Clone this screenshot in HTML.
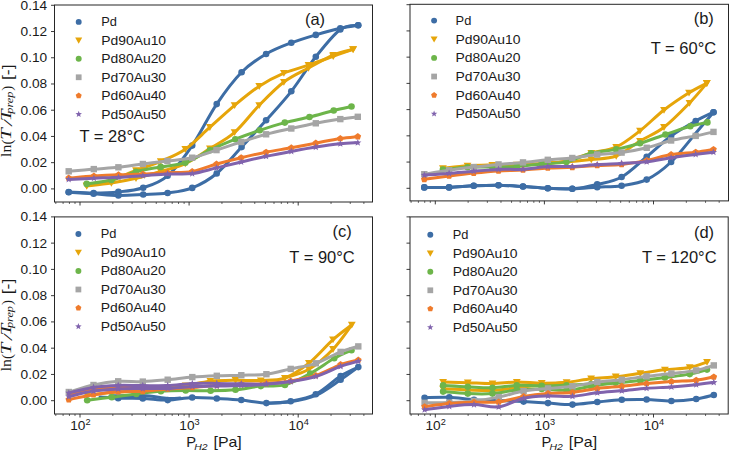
<!DOCTYPE html><html><head><meta charset="utf-8"><style>html,body{margin:0;padding:0;background:#fff;}svg{display:block;}</style></head><body>
<svg width="729" height="450" viewBox="0 0 729 450">
<rect width="729" height="450" fill="#fff"/>
<defs>
<clipPath id="clipa"><rect x="54.50" y="5.00" width="318.00" height="197.00"/></clipPath>
<clipPath id="clipb"><rect x="410.00" y="4.30" width="318.50" height="196.60"/></clipPath>
<clipPath id="clipc"><rect x="54.50" y="216.90" width="318.00" height="197.10"/></clipPath>
<clipPath id="clipd"><rect x="410.00" y="216.90" width="318.20" height="197.10"/></clipPath>
</defs>
<g clip-path="url(#clipa)">
<path d="M68.70,192.00 C72.85,192.17 85.32,193.02 93.60,193.00 C101.88,192.98 110.13,192.78 118.40,191.90 C126.67,191.02 135.00,190.38 143.20,187.70 C151.40,185.02 159.43,182.82 167.60,175.80 C175.77,168.78 184.02,157.55 192.20,145.60 C200.38,133.65 208.47,116.33 216.70,104.10 C224.93,91.87 233.37,80.55 241.60,72.20 C249.83,63.85 257.82,58.90 266.10,54.00 C274.38,49.10 283.02,45.98 291.30,42.80 C299.58,39.62 307.63,37.32 315.80,34.90 C323.97,32.48 333.23,29.90 340.30,28.30 C347.37,26.70 355.22,25.80 358.20,25.30" fill="none" stroke="#3d6da5" stroke-width="3.0" stroke-linecap="round" stroke-linejoin="round"/>
<path d="M68.70,192.20 C72.85,192.47 85.32,193.27 93.60,193.80 C101.88,194.33 110.13,195.28 118.40,195.40 C126.67,195.52 135.00,194.90 143.20,194.50 C151.40,194.10 159.43,194.10 167.60,193.00 C175.77,191.90 184.02,191.15 192.20,187.90 C200.38,184.65 208.47,180.30 216.70,173.50 C224.93,166.70 233.37,155.97 241.60,147.10 C249.83,138.23 257.82,129.60 266.10,120.30 C274.38,111.00 283.02,101.88 291.30,91.30 C299.58,80.72 307.63,67.10 315.80,56.80 C323.97,46.50 333.23,34.75 340.30,29.50 C347.37,24.25 355.22,26.00 358.20,25.30" fill="none" stroke="#3d6da5" stroke-width="3.0" stroke-linecap="round" stroke-linejoin="round"/>
<circle cx="68.70" cy="192.00" r="3.30" fill="#3d6da5"/>
<circle cx="93.60" cy="193.00" r="3.30" fill="#3d6da5"/>
<circle cx="118.40" cy="191.90" r="3.30" fill="#3d6da5"/>
<circle cx="143.20" cy="187.70" r="3.30" fill="#3d6da5"/>
<circle cx="167.60" cy="175.80" r="3.30" fill="#3d6da5"/>
<circle cx="192.20" cy="145.60" r="3.30" fill="#3d6da5"/>
<circle cx="216.70" cy="104.10" r="3.30" fill="#3d6da5"/>
<circle cx="241.60" cy="72.20" r="3.30" fill="#3d6da5"/>
<circle cx="266.10" cy="54.00" r="3.30" fill="#3d6da5"/>
<circle cx="291.30" cy="42.80" r="3.30" fill="#3d6da5"/>
<circle cx="315.80" cy="34.90" r="3.30" fill="#3d6da5"/>
<circle cx="340.30" cy="28.30" r="3.30" fill="#3d6da5"/>
<circle cx="358.20" cy="25.30" r="3.30" fill="#3d6da5"/>
<circle cx="68.70" cy="192.20" r="3.30" fill="#3d6da5"/>
<circle cx="93.60" cy="193.80" r="3.30" fill="#3d6da5"/>
<circle cx="118.40" cy="195.40" r="3.30" fill="#3d6da5"/>
<circle cx="143.20" cy="194.50" r="3.30" fill="#3d6da5"/>
<circle cx="167.60" cy="193.00" r="3.30" fill="#3d6da5"/>
<circle cx="192.20" cy="187.90" r="3.30" fill="#3d6da5"/>
<circle cx="216.70" cy="173.50" r="3.30" fill="#3d6da5"/>
<circle cx="241.60" cy="147.10" r="3.30" fill="#3d6da5"/>
<circle cx="266.10" cy="120.30" r="3.30" fill="#3d6da5"/>
<circle cx="291.30" cy="91.30" r="3.30" fill="#3d6da5"/>
<circle cx="315.80" cy="56.80" r="3.30" fill="#3d6da5"/>
<circle cx="340.30" cy="29.50" r="3.30" fill="#3d6da5"/>
<circle cx="358.20" cy="25.30" r="3.30" fill="#3d6da5"/>
<path d="M86.70,185.90 C90.82,184.92 103.18,182.58 111.40,180.00 C119.62,177.42 127.78,173.52 136.00,170.40 C144.22,167.28 152.48,164.83 160.70,161.30 C168.92,157.77 177.10,154.88 185.30,149.20 C193.50,143.52 201.68,134.52 209.90,127.20 C218.12,119.88 226.38,112.13 234.60,105.30 C242.82,98.47 250.98,91.57 259.20,86.20 C267.42,80.83 275.68,76.60 283.90,73.10 C292.12,69.60 300.28,68.00 308.50,65.20 C316.72,62.40 325.77,58.95 333.20,56.30 C340.63,53.65 349.78,50.47 353.10,49.30" fill="none" stroke="#e6a50a" stroke-width="3.0" stroke-linecap="round" stroke-linejoin="round"/>
<path d="M86.70,185.90 C90.82,185.42 103.18,184.27 111.40,183.00 C119.62,181.73 127.78,180.22 136.00,178.30 C144.22,176.38 152.48,173.95 160.70,171.50 C168.92,169.05 177.10,167.42 185.30,163.60 C193.50,159.78 201.68,153.80 209.90,148.60 C218.12,143.40 226.38,139.62 234.60,132.40 C242.82,125.18 250.98,113.70 259.20,105.30 C267.42,96.90 275.68,88.22 283.90,82.00 C292.12,75.78 300.28,72.48 308.50,68.00 C316.72,63.52 325.77,58.22 333.20,55.10 C340.63,51.98 349.78,50.27 353.10,49.30" fill="none" stroke="#e6a50a" stroke-width="3.0" stroke-linecap="round" stroke-linejoin="round"/>
<path d="M82.80,182.78 L90.60,182.78 L86.70,189.61 Z" fill="#e6a50a"/>
<path d="M107.50,176.88 L115.30,176.88 L111.40,183.71 Z" fill="#e6a50a"/>
<path d="M132.10,167.28 L139.90,167.28 L136.00,174.11 Z" fill="#e6a50a"/>
<path d="M156.80,158.18 L164.60,158.18 L160.70,165.01 Z" fill="#e6a50a"/>
<path d="M181.40,146.08 L189.20,146.08 L185.30,152.91 Z" fill="#e6a50a"/>
<path d="M206.00,124.08 L213.80,124.08 L209.90,130.91 Z" fill="#e6a50a"/>
<path d="M230.70,102.18 L238.50,102.18 L234.60,109.00 Z" fill="#e6a50a"/>
<path d="M255.30,83.08 L263.10,83.08 L259.20,89.91 Z" fill="#e6a50a"/>
<path d="M280.00,69.98 L287.80,69.98 L283.90,76.80 Z" fill="#e6a50a"/>
<path d="M304.60,62.08 L312.40,62.08 L308.50,68.91 Z" fill="#e6a50a"/>
<path d="M329.30,53.18 L337.10,53.18 L333.20,60.00 Z" fill="#e6a50a"/>
<path d="M349.20,46.18 L357.00,46.18 L353.10,53.00 Z" fill="#e6a50a"/>
<path d="M82.80,182.78 L90.60,182.78 L86.70,189.61 Z" fill="#e6a50a"/>
<path d="M107.50,179.88 L115.30,179.88 L111.40,186.71 Z" fill="#e6a50a"/>
<path d="M132.10,175.18 L139.90,175.18 L136.00,182.01 Z" fill="#e6a50a"/>
<path d="M156.80,168.38 L164.60,168.38 L160.70,175.21 Z" fill="#e6a50a"/>
<path d="M181.40,160.48 L189.20,160.48 L185.30,167.31 Z" fill="#e6a50a"/>
<path d="M206.00,145.48 L213.80,145.48 L209.90,152.31 Z" fill="#e6a50a"/>
<path d="M230.70,129.28 L238.50,129.28 L234.60,136.11 Z" fill="#e6a50a"/>
<path d="M255.30,102.18 L263.10,102.18 L259.20,109.00 Z" fill="#e6a50a"/>
<path d="M280.00,78.88 L287.80,78.88 L283.90,85.70 Z" fill="#e6a50a"/>
<path d="M304.60,64.88 L312.40,64.88 L308.50,71.70 Z" fill="#e6a50a"/>
<path d="M329.30,51.98 L337.10,51.98 L333.20,58.80 Z" fill="#e6a50a"/>
<path d="M349.20,46.18 L357.00,46.18 L353.10,53.00 Z" fill="#e6a50a"/>
<path d="M86.70,183.90 C90.82,183.25 103.18,182.03 111.40,180.00 C119.62,177.97 127.78,173.88 136.00,171.70 C144.22,169.52 152.48,168.40 160.70,166.90 C168.92,165.40 177.10,165.48 185.30,162.70 C193.50,159.92 201.57,154.12 209.90,150.20 C218.23,146.28 226.98,142.52 235.30,139.20 C243.62,135.88 251.55,133.07 259.80,130.30 C268.05,127.53 276.52,124.82 284.80,122.60 C293.08,120.38 301.35,119.02 309.50,117.00 C317.65,114.98 326.70,112.25 333.70,110.50 C340.70,108.75 348.53,107.17 351.50,106.50" fill="none" stroke="#6db54a" stroke-width="3.0" stroke-linecap="round" stroke-linejoin="round"/>
<circle cx="86.70" cy="183.90" r="3.30" fill="#6db54a"/>
<circle cx="111.40" cy="180.00" r="3.30" fill="#6db54a"/>
<circle cx="136.00" cy="171.70" r="3.30" fill="#6db54a"/>
<circle cx="160.70" cy="166.90" r="3.30" fill="#6db54a"/>
<circle cx="185.30" cy="162.70" r="3.30" fill="#6db54a"/>
<circle cx="209.90" cy="150.20" r="3.30" fill="#6db54a"/>
<circle cx="235.30" cy="139.20" r="3.30" fill="#6db54a"/>
<circle cx="259.80" cy="130.30" r="3.30" fill="#6db54a"/>
<circle cx="284.80" cy="122.60" r="3.30" fill="#6db54a"/>
<circle cx="309.50" cy="117.00" r="3.30" fill="#6db54a"/>
<circle cx="333.70" cy="110.50" r="3.30" fill="#6db54a"/>
<circle cx="351.50" cy="106.50" r="3.30" fill="#6db54a"/>
<path d="M68.70,171.30 C72.88,170.93 85.52,169.77 93.80,169.10 C102.08,168.43 110.22,168.15 118.40,167.30 C126.58,166.45 134.73,165.05 142.90,164.00 C151.07,162.95 159.18,162.05 167.40,161.00 C175.62,159.95 184.02,159.52 192.20,157.70 C200.38,155.88 208.33,152.72 216.50,150.10 C224.67,147.48 232.93,144.63 241.20,142.00 C249.47,139.37 257.75,136.55 266.10,134.30 C274.45,132.05 283.02,130.33 291.30,128.50 C299.58,126.67 307.63,124.87 315.80,123.30 C323.97,121.73 333.30,120.18 340.30,119.10 C347.30,118.02 354.88,117.18 357.80,116.80" fill="none" stroke="#a5a5a5" stroke-width="3.0" stroke-linecap="round" stroke-linejoin="round"/>
<rect x="65.50" y="168.10" width="6.40" height="6.40" fill="#a5a5a5"/>
<rect x="90.60" y="165.90" width="6.40" height="6.40" fill="#a5a5a5"/>
<rect x="115.20" y="164.10" width="6.40" height="6.40" fill="#a5a5a5"/>
<rect x="139.70" y="160.80" width="6.40" height="6.40" fill="#a5a5a5"/>
<rect x="164.20" y="157.80" width="6.40" height="6.40" fill="#a5a5a5"/>
<rect x="189.00" y="154.50" width="6.40" height="6.40" fill="#a5a5a5"/>
<rect x="213.30" y="146.90" width="6.40" height="6.40" fill="#a5a5a5"/>
<rect x="238.00" y="138.80" width="6.40" height="6.40" fill="#a5a5a5"/>
<rect x="262.90" y="131.10" width="6.40" height="6.40" fill="#a5a5a5"/>
<rect x="288.10" y="125.30" width="6.40" height="6.40" fill="#a5a5a5"/>
<rect x="312.60" y="120.10" width="6.40" height="6.40" fill="#a5a5a5"/>
<rect x="337.10" y="115.90" width="6.40" height="6.40" fill="#a5a5a5"/>
<rect x="354.60" y="113.60" width="6.40" height="6.40" fill="#a5a5a5"/>
<path d="M68.70,178.10 C72.90,177.77 85.60,176.65 93.90,176.10 C102.20,175.55 110.33,175.13 118.50,174.80 C126.67,174.47 134.72,174.43 142.90,174.10 C151.08,173.77 159.38,173.23 167.60,172.80 C175.82,172.37 184.05,172.97 192.20,171.50 C200.35,170.03 208.33,166.30 216.50,164.00 C224.67,161.70 232.93,159.67 241.20,157.70 C249.47,155.73 257.75,153.85 266.10,152.20 C274.45,150.55 283.02,149.32 291.30,147.80 C299.58,146.28 307.63,144.65 315.80,143.10 C323.97,141.55 333.30,139.58 340.30,138.50 C347.30,137.42 354.88,136.92 357.80,136.60" fill="none" stroke="#ef7b2c" stroke-width="3.0" stroke-linecap="round" stroke-linejoin="round"/>
<polygon points="68.70,174.60 72.03,177.02 70.76,180.93 66.64,180.93 65.37,177.02" fill="#ef7b2c"/>
<polygon points="93.90,172.60 97.23,175.02 95.96,178.93 91.84,178.93 90.57,175.02" fill="#ef7b2c"/>
<polygon points="118.50,171.30 121.83,173.72 120.56,177.63 116.44,177.63 115.17,173.72" fill="#ef7b2c"/>
<polygon points="142.90,170.60 146.23,173.02 144.96,176.93 140.84,176.93 139.57,173.02" fill="#ef7b2c"/>
<polygon points="167.60,169.30 170.93,171.72 169.66,175.63 165.54,175.63 164.27,171.72" fill="#ef7b2c"/>
<polygon points="192.20,168.00 195.53,170.42 194.26,174.33 190.14,174.33 188.87,170.42" fill="#ef7b2c"/>
<polygon points="216.50,160.50 219.83,162.92 218.56,166.83 214.44,166.83 213.17,162.92" fill="#ef7b2c"/>
<polygon points="241.20,154.20 244.53,156.62 243.26,160.53 239.14,160.53 237.87,156.62" fill="#ef7b2c"/>
<polygon points="266.10,148.70 269.43,151.12 268.16,155.03 264.04,155.03 262.77,151.12" fill="#ef7b2c"/>
<polygon points="291.30,144.30 294.63,146.72 293.36,150.63 289.24,150.63 287.97,146.72" fill="#ef7b2c"/>
<polygon points="315.80,139.60 319.13,142.02 317.86,145.93 313.74,145.93 312.47,142.02" fill="#ef7b2c"/>
<polygon points="340.30,135.00 343.63,137.42 342.36,141.33 338.24,141.33 336.97,137.42" fill="#ef7b2c"/>
<polygon points="357.80,133.10 361.13,135.52 359.86,139.43 355.74,139.43 354.47,135.52" fill="#ef7b2c"/>
<path d="M68.70,179.40 C72.90,179.20 85.60,178.55 93.90,178.20 C102.20,177.85 110.33,177.72 118.50,177.30 C126.67,176.88 134.72,176.25 142.90,175.70 C151.08,175.15 159.38,174.35 167.60,174.00 C175.82,173.65 184.05,174.62 192.20,173.60 C200.35,172.58 208.33,169.83 216.50,167.90 C224.67,165.97 232.93,163.93 241.20,162.00 C249.47,160.07 257.75,158.07 266.10,156.30 C274.45,154.53 283.02,152.93 291.30,151.40 C299.58,149.87 307.63,148.37 315.80,147.10 C323.97,145.83 333.30,144.53 340.30,143.80 C347.30,143.07 354.88,142.88 357.80,142.70" fill="none" stroke="#8063ad" stroke-width="3.0" stroke-linecap="round" stroke-linejoin="round"/>
<polygon points="68.70,175.60 69.64,178.11 72.31,178.23 70.22,179.89 70.93,182.47 68.70,181.00 66.47,182.47 67.18,179.89 65.09,178.23 67.76,178.11" fill="#8063ad"/>
<polygon points="93.90,174.40 94.84,176.91 97.51,177.03 95.42,178.69 96.13,181.27 93.90,179.80 91.67,181.27 92.38,178.69 90.29,177.03 92.96,176.91" fill="#8063ad"/>
<polygon points="118.50,173.50 119.44,176.01 122.11,176.13 120.02,177.79 120.73,180.37 118.50,178.90 116.27,180.37 116.98,177.79 114.89,176.13 117.56,176.01" fill="#8063ad"/>
<polygon points="142.90,171.90 143.84,174.41 146.51,174.53 144.42,176.19 145.13,178.77 142.90,177.30 140.67,178.77 141.38,176.19 139.29,174.53 141.96,174.41" fill="#8063ad"/>
<polygon points="167.60,170.20 168.54,172.71 171.21,172.83 169.12,174.49 169.83,177.07 167.60,175.60 165.37,177.07 166.08,174.49 163.99,172.83 166.66,172.71" fill="#8063ad"/>
<polygon points="192.20,169.80 193.14,172.31 195.81,172.43 193.72,174.09 194.43,176.67 192.20,175.20 189.97,176.67 190.68,174.09 188.59,172.43 191.26,172.31" fill="#8063ad"/>
<polygon points="216.50,164.10 217.44,166.61 220.11,166.73 218.02,168.39 218.73,170.97 216.50,169.50 214.27,170.97 214.98,168.39 212.89,166.73 215.56,166.61" fill="#8063ad"/>
<polygon points="241.20,158.20 242.14,160.71 244.81,160.83 242.72,162.49 243.43,165.07 241.20,163.60 238.97,165.07 239.68,162.49 237.59,160.83 240.26,160.71" fill="#8063ad"/>
<polygon points="266.10,152.50 267.04,155.01 269.71,155.13 267.62,156.79 268.33,159.37 266.10,157.90 263.87,159.37 264.58,156.79 262.49,155.13 265.16,155.01" fill="#8063ad"/>
<polygon points="291.30,147.60 292.24,150.11 294.91,150.23 292.82,151.89 293.53,154.47 291.30,153.00 289.07,154.47 289.78,151.89 287.69,150.23 290.36,150.11" fill="#8063ad"/>
<polygon points="315.80,143.30 316.74,145.81 319.41,145.93 317.32,147.59 318.03,150.17 315.80,148.70 313.57,150.17 314.28,147.59 312.19,145.93 314.86,145.81" fill="#8063ad"/>
<polygon points="340.30,140.00 341.24,142.51 343.91,142.63 341.82,144.29 342.53,146.87 340.30,145.40 338.07,146.87 338.78,144.29 336.69,142.63 339.36,142.51" fill="#8063ad"/>
<polygon points="357.80,138.90 358.74,141.41 361.41,141.53 359.32,143.19 360.03,145.77 357.80,144.30 355.57,145.77 356.28,143.19 354.19,141.53 356.86,141.41" fill="#8063ad"/>
</g>
<rect x="54.50" y="5.00" width="318.00" height="197.00" fill="none" stroke="#262626" stroke-width="1"/>
<line x1="51.00" y1="188.90" x2="54.50" y2="188.90" stroke="#262626" stroke-width="0.9"/>
<text x="47.2" y="193.40" text-anchor="end" style="font-family:'Liberation Sans',sans-serif;font-size:12.5px" fill="#1a1a1a" textLength="26.6" lengthAdjust="spacingAndGlyphs">0.00</text>
<line x1="51.00" y1="162.67" x2="54.50" y2="162.67" stroke="#262626" stroke-width="0.9"/>
<text x="47.2" y="167.17" text-anchor="end" style="font-family:'Liberation Sans',sans-serif;font-size:12.5px" fill="#1a1a1a" textLength="26.6" lengthAdjust="spacingAndGlyphs">0.02</text>
<line x1="51.00" y1="136.44" x2="54.50" y2="136.44" stroke="#262626" stroke-width="0.9"/>
<text x="47.2" y="140.94" text-anchor="end" style="font-family:'Liberation Sans',sans-serif;font-size:12.5px" fill="#1a1a1a" textLength="26.6" lengthAdjust="spacingAndGlyphs">0.04</text>
<line x1="51.00" y1="110.21" x2="54.50" y2="110.21" stroke="#262626" stroke-width="0.9"/>
<text x="47.2" y="114.71" text-anchor="end" style="font-family:'Liberation Sans',sans-serif;font-size:12.5px" fill="#1a1a1a" textLength="26.6" lengthAdjust="spacingAndGlyphs">0.06</text>
<line x1="51.00" y1="83.98" x2="54.50" y2="83.98" stroke="#262626" stroke-width="0.9"/>
<text x="47.2" y="88.48" text-anchor="end" style="font-family:'Liberation Sans',sans-serif;font-size:12.5px" fill="#1a1a1a" textLength="26.6" lengthAdjust="spacingAndGlyphs">0.08</text>
<line x1="51.00" y1="57.75" x2="54.50" y2="57.75" stroke="#262626" stroke-width="0.9"/>
<text x="47.2" y="62.25" text-anchor="end" style="font-family:'Liberation Sans',sans-serif;font-size:12.5px" fill="#1a1a1a" textLength="26.6" lengthAdjust="spacingAndGlyphs">0.10</text>
<line x1="51.00" y1="31.52" x2="54.50" y2="31.52" stroke="#262626" stroke-width="0.9"/>
<text x="47.2" y="36.02" text-anchor="end" style="font-family:'Liberation Sans',sans-serif;font-size:12.5px" fill="#1a1a1a" textLength="26.6" lengthAdjust="spacingAndGlyphs">0.12</text>
<line x1="51.00" y1="5.29" x2="54.50" y2="5.29" stroke="#262626" stroke-width="0.9"/>
<text x="47.2" y="9.79" text-anchor="end" style="font-family:'Liberation Sans',sans-serif;font-size:12.5px" fill="#1a1a1a" textLength="26.6" lengthAdjust="spacingAndGlyphs">0.14</text>
<line x1="55.80" y1="202.00" x2="55.80" y2="204.00" stroke="#262626" stroke-width="0.7"/>
<line x1="63.10" y1="202.00" x2="63.10" y2="204.00" stroke="#262626" stroke-width="0.7"/>
<line x1="69.43" y1="202.00" x2="69.43" y2="204.00" stroke="#262626" stroke-width="0.7"/>
<line x1="75.01" y1="202.00" x2="75.01" y2="204.00" stroke="#262626" stroke-width="0.7"/>
<line x1="80.00" y1="202.00" x2="80.00" y2="205.50" stroke="#262626" stroke-width="0.9"/>
<line x1="112.84" y1="202.00" x2="112.84" y2="204.00" stroke="#262626" stroke-width="0.7"/>
<line x1="132.05" y1="202.00" x2="132.05" y2="204.00" stroke="#262626" stroke-width="0.7"/>
<line x1="145.68" y1="202.00" x2="145.68" y2="204.00" stroke="#262626" stroke-width="0.7"/>
<line x1="156.26" y1="202.00" x2="156.26" y2="204.00" stroke="#262626" stroke-width="0.7"/>
<line x1="164.90" y1="202.00" x2="164.90" y2="204.00" stroke="#262626" stroke-width="0.7"/>
<line x1="172.20" y1="202.00" x2="172.20" y2="204.00" stroke="#262626" stroke-width="0.7"/>
<line x1="178.53" y1="202.00" x2="178.53" y2="204.00" stroke="#262626" stroke-width="0.7"/>
<line x1="184.11" y1="202.00" x2="184.11" y2="204.00" stroke="#262626" stroke-width="0.7"/>
<line x1="189.10" y1="202.00" x2="189.10" y2="205.50" stroke="#262626" stroke-width="0.9"/>
<line x1="221.94" y1="202.00" x2="221.94" y2="204.00" stroke="#262626" stroke-width="0.7"/>
<line x1="241.15" y1="202.00" x2="241.15" y2="204.00" stroke="#262626" stroke-width="0.7"/>
<line x1="254.78" y1="202.00" x2="254.78" y2="204.00" stroke="#262626" stroke-width="0.7"/>
<line x1="265.36" y1="202.00" x2="265.36" y2="204.00" stroke="#262626" stroke-width="0.7"/>
<line x1="274.00" y1="202.00" x2="274.00" y2="204.00" stroke="#262626" stroke-width="0.7"/>
<line x1="281.30" y1="202.00" x2="281.30" y2="204.00" stroke="#262626" stroke-width="0.7"/>
<line x1="287.63" y1="202.00" x2="287.63" y2="204.00" stroke="#262626" stroke-width="0.7"/>
<line x1="293.21" y1="202.00" x2="293.21" y2="204.00" stroke="#262626" stroke-width="0.7"/>
<line x1="298.20" y1="202.00" x2="298.20" y2="205.50" stroke="#262626" stroke-width="0.9"/>
<line x1="331.04" y1="202.00" x2="331.04" y2="204.00" stroke="#262626" stroke-width="0.7"/>
<line x1="350.25" y1="202.00" x2="350.25" y2="204.00" stroke="#262626" stroke-width="0.7"/>
<line x1="363.88" y1="202.00" x2="363.88" y2="204.00" stroke="#262626" stroke-width="0.7"/>
<g clip-path="url(#clipb)">
<path d="M424.30,187.40 C428.43,187.40 440.87,187.67 449.10,187.40 C457.33,187.13 465.47,186.17 473.70,185.80 C481.93,185.43 490.28,185.08 498.50,185.20 C506.72,185.32 514.78,185.98 523.00,186.50 C531.22,187.02 539.58,187.92 547.80,188.30 C556.02,188.68 564.07,189.45 572.30,188.80 C580.53,188.15 588.98,186.37 597.20,184.40 C605.42,182.43 613.35,181.62 621.60,177.00 C629.85,172.38 638.45,163.53 646.70,156.70 C654.95,149.87 662.93,141.93 671.10,136.00 C679.27,130.07 688.63,125.07 695.70,121.10 C702.77,117.13 710.53,113.68 713.50,112.20" fill="none" stroke="#3d6da5" stroke-width="3.0" stroke-linecap="round" stroke-linejoin="round"/>
<path d="M424.30,187.40 C428.43,187.40 440.87,187.67 449.10,187.40 C457.33,187.13 465.47,186.17 473.70,185.80 C481.93,185.43 490.28,185.08 498.50,185.20 C506.72,185.32 514.78,185.98 523.00,186.50 C531.22,187.02 539.58,187.92 547.80,188.30 C556.02,188.68 564.07,188.98 572.30,188.80 C580.53,188.62 588.98,187.72 597.20,187.20 C605.42,186.68 613.35,186.97 621.60,185.70 C629.85,184.43 638.45,183.55 646.70,179.60 C654.95,175.65 662.93,169.72 671.10,162.00 C679.27,154.28 688.63,141.60 695.70,133.30 C702.77,125.00 710.53,115.72 713.50,112.20" fill="none" stroke="#3d6da5" stroke-width="3.0" stroke-linecap="round" stroke-linejoin="round"/>
<circle cx="424.30" cy="187.40" r="3.30" fill="#3d6da5"/>
<circle cx="449.10" cy="187.40" r="3.30" fill="#3d6da5"/>
<circle cx="473.70" cy="185.80" r="3.30" fill="#3d6da5"/>
<circle cx="498.50" cy="185.20" r="3.30" fill="#3d6da5"/>
<circle cx="523.00" cy="186.50" r="3.30" fill="#3d6da5"/>
<circle cx="547.80" cy="188.30" r="3.30" fill="#3d6da5"/>
<circle cx="572.30" cy="188.80" r="3.30" fill="#3d6da5"/>
<circle cx="597.20" cy="184.40" r="3.30" fill="#3d6da5"/>
<circle cx="621.60" cy="177.00" r="3.30" fill="#3d6da5"/>
<circle cx="646.70" cy="156.70" r="3.30" fill="#3d6da5"/>
<circle cx="671.10" cy="136.00" r="3.30" fill="#3d6da5"/>
<circle cx="695.70" cy="121.10" r="3.30" fill="#3d6da5"/>
<circle cx="713.50" cy="112.20" r="3.30" fill="#3d6da5"/>
<circle cx="424.30" cy="187.40" r="3.30" fill="#3d6da5"/>
<circle cx="449.10" cy="187.40" r="3.30" fill="#3d6da5"/>
<circle cx="473.70" cy="185.80" r="3.30" fill="#3d6da5"/>
<circle cx="498.50" cy="185.20" r="3.30" fill="#3d6da5"/>
<circle cx="523.00" cy="186.50" r="3.30" fill="#3d6da5"/>
<circle cx="547.80" cy="188.30" r="3.30" fill="#3d6da5"/>
<circle cx="572.30" cy="188.80" r="3.30" fill="#3d6da5"/>
<circle cx="597.20" cy="187.20" r="3.30" fill="#3d6da5"/>
<circle cx="621.60" cy="185.70" r="3.30" fill="#3d6da5"/>
<circle cx="646.70" cy="179.60" r="3.30" fill="#3d6da5"/>
<circle cx="671.10" cy="162.00" r="3.30" fill="#3d6da5"/>
<circle cx="713.50" cy="112.20" r="3.30" fill="#3d6da5"/>
<path d="M442.90,168.40 C447.00,167.97 459.27,166.37 467.50,165.80 C475.73,165.23 484.07,165.17 492.30,165.00 C500.53,164.83 508.67,165.05 516.90,164.80 C525.13,164.55 533.45,164.13 541.70,163.50 C549.95,162.87 558.13,162.75 566.40,161.00 C574.67,159.25 583.00,155.33 591.30,153.00 C599.60,150.67 608.08,150.70 616.20,147.00 C624.32,143.30 632.03,136.97 640.00,130.80 C647.97,124.63 655.83,116.33 664.00,110.00 C672.17,103.67 681.87,97.27 689.00,92.80 C696.13,88.33 703.83,84.80 706.80,83.20" fill="none" stroke="#e6a50a" stroke-width="3.0" stroke-linecap="round" stroke-linejoin="round"/>
<path d="M541.70,162.80 C545.82,162.67 558.13,162.55 566.40,162.00 C574.67,161.45 583.00,160.50 591.30,159.50 C599.60,158.50 608.08,159.08 616.20,156.00 C624.32,152.92 632.03,145.80 640.00,141.00 C647.97,136.20 655.75,133.53 664.00,127.20 C672.25,120.87 682.37,110.33 689.50,103.00 C696.63,95.67 703.92,86.50 706.80,83.20" fill="none" stroke="#e6a50a" stroke-width="3.0" stroke-linecap="round" stroke-linejoin="round"/>
<path d="M439.00,165.28 L446.80,165.28 L442.90,172.11 Z" fill="#e6a50a"/>
<path d="M463.60,162.68 L471.40,162.68 L467.50,169.51 Z" fill="#e6a50a"/>
<path d="M488.40,161.88 L496.20,161.88 L492.30,168.71 Z" fill="#e6a50a"/>
<path d="M513.00,161.68 L520.80,161.68 L516.90,168.51 Z" fill="#e6a50a"/>
<path d="M537.80,160.38 L545.60,160.38 L541.70,167.21 Z" fill="#e6a50a"/>
<path d="M562.50,157.88 L570.30,157.88 L566.40,164.71 Z" fill="#e6a50a"/>
<path d="M587.40,149.88 L595.20,149.88 L591.30,156.71 Z" fill="#e6a50a"/>
<path d="M612.30,143.88 L620.10,143.88 L616.20,150.71 Z" fill="#e6a50a"/>
<path d="M636.10,127.68 L643.90,127.68 L640.00,134.51 Z" fill="#e6a50a"/>
<path d="M660.10,106.88 L667.90,106.88 L664.00,113.70 Z" fill="#e6a50a"/>
<path d="M685.10,89.68 L692.90,89.68 L689.00,96.50 Z" fill="#e6a50a"/>
<path d="M702.90,80.08 L710.70,80.08 L706.80,86.91 Z" fill="#e6a50a"/>
<path d="M562.50,158.88 L570.30,158.88 L566.40,165.71 Z" fill="#e6a50a"/>
<path d="M587.40,156.38 L595.20,156.38 L591.30,163.21 Z" fill="#e6a50a"/>
<path d="M612.30,152.88 L620.10,152.88 L616.20,159.71 Z" fill="#e6a50a"/>
<path d="M636.10,137.88 L643.90,137.88 L640.00,144.71 Z" fill="#e6a50a"/>
<path d="M660.10,124.08 L667.90,124.08 L664.00,130.91 Z" fill="#e6a50a"/>
<path d="M685.60,99.88 L693.40,99.88 L689.50,106.70 Z" fill="#e6a50a"/>
<path d="M702.90,80.08 L710.70,80.08 L706.80,86.91 Z" fill="#e6a50a"/>
<path d="M442.90,169.50 C447.00,169.12 459.27,167.62 467.50,167.20 C475.73,166.78 484.07,167.10 492.30,167.00 C500.53,166.90 508.67,167.12 516.90,166.60 C525.13,166.08 533.45,164.68 541.70,163.90 C549.95,163.12 558.13,163.67 566.40,161.90 C574.67,160.13 583.00,155.38 591.30,153.30 C599.60,151.22 608.08,151.07 616.20,149.40 C624.32,147.73 631.80,145.78 640.00,143.30 C648.20,140.82 657.02,137.33 665.40,134.50 C673.78,131.67 683.30,128.32 690.30,126.30 C697.30,124.28 704.55,123.05 707.40,122.40" fill="none" stroke="#6db54a" stroke-width="3.0" stroke-linecap="round" stroke-linejoin="round"/>
<circle cx="442.90" cy="169.50" r="3.30" fill="#6db54a"/>
<circle cx="467.50" cy="167.20" r="3.30" fill="#6db54a"/>
<circle cx="492.30" cy="167.00" r="3.30" fill="#6db54a"/>
<circle cx="516.90" cy="166.60" r="3.30" fill="#6db54a"/>
<circle cx="541.70" cy="163.90" r="3.30" fill="#6db54a"/>
<circle cx="566.40" cy="161.90" r="3.30" fill="#6db54a"/>
<circle cx="591.30" cy="153.30" r="3.30" fill="#6db54a"/>
<circle cx="616.20" cy="149.40" r="3.30" fill="#6db54a"/>
<circle cx="640.00" cy="143.30" r="3.30" fill="#6db54a"/>
<circle cx="665.40" cy="134.50" r="3.30" fill="#6db54a"/>
<circle cx="690.30" cy="126.30" r="3.30" fill="#6db54a"/>
<circle cx="707.40" cy="122.40" r="3.30" fill="#6db54a"/>
<path d="M424.30,174.20 C428.43,173.55 440.87,171.48 449.10,170.30 C457.33,169.12 465.47,168.08 473.70,167.10 C481.93,166.12 490.28,165.18 498.50,164.40 C506.72,163.62 514.78,163.17 523.00,162.40 C531.22,161.63 539.58,160.53 547.80,159.80 C556.02,159.07 564.07,158.87 572.30,158.00 C580.53,157.13 588.98,155.50 597.20,154.60 C605.42,153.70 613.35,153.73 621.60,152.60 C629.85,151.47 638.45,149.82 646.70,147.80 C654.95,145.78 662.93,142.48 671.10,140.50 C679.27,138.52 688.63,137.33 695.70,135.90 C702.77,134.47 710.53,132.57 713.50,131.90" fill="none" stroke="#a5a5a5" stroke-width="3.0" stroke-linecap="round" stroke-linejoin="round"/>
<rect x="421.10" y="171.00" width="6.40" height="6.40" fill="#a5a5a5"/>
<rect x="445.90" y="167.10" width="6.40" height="6.40" fill="#a5a5a5"/>
<rect x="470.50" y="163.90" width="6.40" height="6.40" fill="#a5a5a5"/>
<rect x="495.30" y="161.20" width="6.40" height="6.40" fill="#a5a5a5"/>
<rect x="519.80" y="159.20" width="6.40" height="6.40" fill="#a5a5a5"/>
<rect x="544.60" y="156.60" width="6.40" height="6.40" fill="#a5a5a5"/>
<rect x="569.10" y="154.80" width="6.40" height="6.40" fill="#a5a5a5"/>
<rect x="594.00" y="151.40" width="6.40" height="6.40" fill="#a5a5a5"/>
<rect x="618.40" y="149.40" width="6.40" height="6.40" fill="#a5a5a5"/>
<rect x="643.50" y="144.60" width="6.40" height="6.40" fill="#a5a5a5"/>
<rect x="667.90" y="137.30" width="6.40" height="6.40" fill="#a5a5a5"/>
<rect x="692.50" y="132.70" width="6.40" height="6.40" fill="#a5a5a5"/>
<rect x="710.30" y="128.70" width="6.40" height="6.40" fill="#a5a5a5"/>
<path d="M424.30,179.30 C428.43,178.75 440.87,177.03 449.10,176.00 C457.33,174.97 465.47,173.95 473.70,173.10 C481.93,172.25 490.28,171.42 498.50,170.90 C506.72,170.38 514.78,170.48 523.00,170.00 C531.22,169.52 539.58,168.45 547.80,168.00 C556.02,167.55 564.07,167.72 572.30,167.30 C580.53,166.88 588.98,165.97 597.20,165.50 C605.42,165.03 613.35,165.35 621.60,164.50 C629.85,163.65 638.45,162.05 646.70,160.40 C654.95,158.75 662.93,155.97 671.10,154.60 C679.27,153.23 688.63,153.07 695.70,152.20 C702.77,151.33 710.53,149.87 713.50,149.40" fill="none" stroke="#ef7b2c" stroke-width="3.0" stroke-linecap="round" stroke-linejoin="round"/>
<polygon points="424.30,175.80 427.63,178.22 426.36,182.13 422.24,182.13 420.97,178.22" fill="#ef7b2c"/>
<polygon points="449.10,172.50 452.43,174.92 451.16,178.83 447.04,178.83 445.77,174.92" fill="#ef7b2c"/>
<polygon points="473.70,169.60 477.03,172.02 475.76,175.93 471.64,175.93 470.37,172.02" fill="#ef7b2c"/>
<polygon points="498.50,167.40 501.83,169.82 500.56,173.73 496.44,173.73 495.17,169.82" fill="#ef7b2c"/>
<polygon points="523.00,166.50 526.33,168.92 525.06,172.83 520.94,172.83 519.67,168.92" fill="#ef7b2c"/>
<polygon points="547.80,164.50 551.13,166.92 549.86,170.83 545.74,170.83 544.47,166.92" fill="#ef7b2c"/>
<polygon points="572.30,163.80 575.63,166.22 574.36,170.13 570.24,170.13 568.97,166.22" fill="#ef7b2c"/>
<polygon points="597.20,162.00 600.53,164.42 599.26,168.33 595.14,168.33 593.87,164.42" fill="#ef7b2c"/>
<polygon points="621.60,161.00 624.93,163.42 623.66,167.33 619.54,167.33 618.27,163.42" fill="#ef7b2c"/>
<polygon points="646.70,156.90 650.03,159.32 648.76,163.23 644.64,163.23 643.37,159.32" fill="#ef7b2c"/>
<polygon points="671.10,151.10 674.43,153.52 673.16,157.43 669.04,157.43 667.77,153.52" fill="#ef7b2c"/>
<polygon points="695.70,148.70 699.03,151.12 697.76,155.03 693.64,155.03 692.37,151.12" fill="#ef7b2c"/>
<polygon points="713.50,145.90 716.83,148.32 715.56,152.23 711.44,152.23 710.17,148.32" fill="#ef7b2c"/>
<path d="M424.30,175.10 C428.43,174.82 440.87,174.05 449.10,173.40 C457.33,172.75 465.47,171.87 473.70,171.20 C481.93,170.53 490.28,169.73 498.50,169.40 C506.72,169.07 514.78,169.67 523.00,169.20 C531.22,168.73 539.58,167.05 547.80,166.60 C556.02,166.15 564.07,166.85 572.30,166.50 C580.53,166.15 588.98,165.02 597.20,164.50 C605.42,163.98 613.35,163.85 621.60,163.40 C629.85,162.95 638.45,162.75 646.70,161.80 C654.95,160.85 662.93,158.93 671.10,157.70 C679.27,156.47 688.63,155.32 695.70,154.40 C702.77,153.48 710.53,152.57 713.50,152.20" fill="none" stroke="#8063ad" stroke-width="3.0" stroke-linecap="round" stroke-linejoin="round"/>
<polygon points="424.30,171.30 425.24,173.81 427.91,173.93 425.82,175.59 426.53,178.17 424.30,176.70 422.07,178.17 422.78,175.59 420.69,173.93 423.36,173.81" fill="#8063ad"/>
<polygon points="449.10,169.60 450.04,172.11 452.71,172.23 450.62,173.89 451.33,176.47 449.10,175.00 446.87,176.47 447.58,173.89 445.49,172.23 448.16,172.11" fill="#8063ad"/>
<polygon points="473.70,167.40 474.64,169.91 477.31,170.03 475.22,171.69 475.93,174.27 473.70,172.80 471.47,174.27 472.18,171.69 470.09,170.03 472.76,169.91" fill="#8063ad"/>
<polygon points="498.50,165.60 499.44,168.11 502.11,168.23 500.02,169.89 500.73,172.47 498.50,171.00 496.27,172.47 496.98,169.89 494.89,168.23 497.56,168.11" fill="#8063ad"/>
<polygon points="523.00,165.40 523.94,167.91 526.61,168.03 524.52,169.69 525.23,172.27 523.00,170.80 520.77,172.27 521.48,169.69 519.39,168.03 522.06,167.91" fill="#8063ad"/>
<polygon points="547.80,162.80 548.74,165.31 551.41,165.43 549.32,167.09 550.03,169.67 547.80,168.20 545.57,169.67 546.28,167.09 544.19,165.43 546.86,165.31" fill="#8063ad"/>
<polygon points="572.30,162.70 573.24,165.21 575.91,165.33 573.82,166.99 574.53,169.57 572.30,168.10 570.07,169.57 570.78,166.99 568.69,165.33 571.36,165.21" fill="#8063ad"/>
<polygon points="597.20,160.70 598.14,163.21 600.81,163.33 598.72,164.99 599.43,167.57 597.20,166.10 594.97,167.57 595.68,164.99 593.59,163.33 596.26,163.21" fill="#8063ad"/>
<polygon points="621.60,159.60 622.54,162.11 625.21,162.23 623.12,163.89 623.83,166.47 621.60,165.00 619.37,166.47 620.08,163.89 617.99,162.23 620.66,162.11" fill="#8063ad"/>
<polygon points="646.70,158.00 647.64,160.51 650.31,160.63 648.22,162.29 648.93,164.87 646.70,163.40 644.47,164.87 645.18,162.29 643.09,160.63 645.76,160.51" fill="#8063ad"/>
<polygon points="671.10,153.90 672.04,156.41 674.71,156.53 672.62,158.19 673.33,160.77 671.10,159.30 668.87,160.77 669.58,158.19 667.49,156.53 670.16,156.41" fill="#8063ad"/>
<polygon points="695.70,150.60 696.64,153.11 699.31,153.23 697.22,154.89 697.93,157.47 695.70,156.00 693.47,157.47 694.18,154.89 692.09,153.23 694.76,153.11" fill="#8063ad"/>
<polygon points="713.50,148.40 714.44,150.91 717.11,151.03 715.02,152.69 715.73,155.27 713.50,153.80 711.27,155.27 711.98,152.69 709.89,151.03 712.56,150.91" fill="#8063ad"/>
</g>
<rect x="410.00" y="4.30" width="318.50" height="196.60" fill="none" stroke="#262626" stroke-width="1"/>
<line x1="406.50" y1="188.30" x2="410.00" y2="188.30" stroke="#262626" stroke-width="0.9"/>
<line x1="406.50" y1="162.07" x2="410.00" y2="162.07" stroke="#262626" stroke-width="0.9"/>
<line x1="406.50" y1="135.84" x2="410.00" y2="135.84" stroke="#262626" stroke-width="0.9"/>
<line x1="406.50" y1="109.61" x2="410.00" y2="109.61" stroke="#262626" stroke-width="0.9"/>
<line x1="406.50" y1="83.38" x2="410.00" y2="83.38" stroke="#262626" stroke-width="0.9"/>
<line x1="406.50" y1="57.15" x2="410.00" y2="57.15" stroke="#262626" stroke-width="0.9"/>
<line x1="406.50" y1="30.92" x2="410.00" y2="30.92" stroke="#262626" stroke-width="0.9"/>
<line x1="406.50" y1="4.69" x2="410.00" y2="4.69" stroke="#262626" stroke-width="0.9"/>
<line x1="411.10" y1="200.90" x2="411.10" y2="202.90" stroke="#262626" stroke-width="0.7"/>
<line x1="418.40" y1="200.90" x2="418.40" y2="202.90" stroke="#262626" stroke-width="0.7"/>
<line x1="424.73" y1="200.90" x2="424.73" y2="202.90" stroke="#262626" stroke-width="0.7"/>
<line x1="430.31" y1="200.90" x2="430.31" y2="202.90" stroke="#262626" stroke-width="0.7"/>
<line x1="435.30" y1="200.90" x2="435.30" y2="204.40" stroke="#262626" stroke-width="0.9"/>
<line x1="468.14" y1="200.90" x2="468.14" y2="202.90" stroke="#262626" stroke-width="0.7"/>
<line x1="487.35" y1="200.90" x2="487.35" y2="202.90" stroke="#262626" stroke-width="0.7"/>
<line x1="500.98" y1="200.90" x2="500.98" y2="202.90" stroke="#262626" stroke-width="0.7"/>
<line x1="511.56" y1="200.90" x2="511.56" y2="202.90" stroke="#262626" stroke-width="0.7"/>
<line x1="520.20" y1="200.90" x2="520.20" y2="202.90" stroke="#262626" stroke-width="0.7"/>
<line x1="527.50" y1="200.90" x2="527.50" y2="202.90" stroke="#262626" stroke-width="0.7"/>
<line x1="533.83" y1="200.90" x2="533.83" y2="202.90" stroke="#262626" stroke-width="0.7"/>
<line x1="539.41" y1="200.90" x2="539.41" y2="202.90" stroke="#262626" stroke-width="0.7"/>
<line x1="544.40" y1="200.90" x2="544.40" y2="204.40" stroke="#262626" stroke-width="0.9"/>
<line x1="577.24" y1="200.90" x2="577.24" y2="202.90" stroke="#262626" stroke-width="0.7"/>
<line x1="596.45" y1="200.90" x2="596.45" y2="202.90" stroke="#262626" stroke-width="0.7"/>
<line x1="610.08" y1="200.90" x2="610.08" y2="202.90" stroke="#262626" stroke-width="0.7"/>
<line x1="620.66" y1="200.90" x2="620.66" y2="202.90" stroke="#262626" stroke-width="0.7"/>
<line x1="629.30" y1="200.90" x2="629.30" y2="202.90" stroke="#262626" stroke-width="0.7"/>
<line x1="636.60" y1="200.90" x2="636.60" y2="202.90" stroke="#262626" stroke-width="0.7"/>
<line x1="642.93" y1="200.90" x2="642.93" y2="202.90" stroke="#262626" stroke-width="0.7"/>
<line x1="648.51" y1="200.90" x2="648.51" y2="202.90" stroke="#262626" stroke-width="0.7"/>
<line x1="653.50" y1="200.90" x2="653.50" y2="204.40" stroke="#262626" stroke-width="0.9"/>
<line x1="686.34" y1="200.90" x2="686.34" y2="202.90" stroke="#262626" stroke-width="0.7"/>
<line x1="705.55" y1="200.90" x2="705.55" y2="202.90" stroke="#262626" stroke-width="0.7"/>
<line x1="719.18" y1="200.90" x2="719.18" y2="202.90" stroke="#262626" stroke-width="0.7"/>
<g clip-path="url(#clipc)">
<path d="M100.00,397.00 C103.03,397.20 111.07,397.97 118.20,398.20 C125.33,398.43 134.55,398.08 142.80,398.40 C151.05,398.72 159.47,400.25 167.70,400.10 C175.93,399.95 184.02,397.77 192.20,397.50 C200.38,397.23 208.62,398.08 216.80,398.50 C224.98,398.92 233.03,399.23 241.30,400.00 C249.57,400.77 258.17,402.88 266.40,403.10 C274.63,403.32 282.47,402.78 290.70,401.30 C298.93,399.82 307.48,398.42 315.80,394.20 C324.12,389.98 333.52,380.52 340.60,376.00 C347.68,371.48 355.35,368.58 358.30,367.10" fill="none" stroke="#3d6da5" stroke-width="3.0" stroke-linecap="round" stroke-linejoin="round"/>
<path d="M110.00,395.80 C115.47,395.77 133.18,395.15 142.80,395.60 C152.42,396.05 161.50,398.10 167.70,398.50 C173.90,398.90 177.95,398.08 180.00,398.00" fill="none" stroke="#3d6da5" stroke-width="3.0" stroke-linecap="round" stroke-linejoin="round"/>
<path d="M266.40,403.10 C270.45,402.88 282.47,403.07 290.70,401.80 C298.93,400.53 307.48,399.17 315.80,395.50 C324.12,391.83 333.52,384.53 340.60,379.80 C347.68,375.07 355.35,369.22 358.30,367.10" fill="none" stroke="#3d6da5" stroke-width="3.0" stroke-linecap="round" stroke-linejoin="round"/>
<circle cx="118.20" cy="398.20" r="3.30" fill="#3d6da5"/>
<circle cx="142.80" cy="398.40" r="3.30" fill="#3d6da5"/>
<circle cx="167.70" cy="400.10" r="3.30" fill="#3d6da5"/>
<circle cx="192.20" cy="397.50" r="3.30" fill="#3d6da5"/>
<circle cx="216.80" cy="398.50" r="3.30" fill="#3d6da5"/>
<circle cx="241.30" cy="400.00" r="3.30" fill="#3d6da5"/>
<circle cx="266.40" cy="403.10" r="3.30" fill="#3d6da5"/>
<circle cx="290.70" cy="401.30" r="3.30" fill="#3d6da5"/>
<circle cx="315.80" cy="394.20" r="3.30" fill="#3d6da5"/>
<circle cx="340.60" cy="376.00" r="3.30" fill="#3d6da5"/>
<circle cx="358.30" cy="367.10" r="3.30" fill="#3d6da5"/>
<circle cx="340.60" cy="379.80" r="3.30" fill="#3d6da5"/>
<path d="M87.20,395.50 C91.30,394.98 103.62,393.10 111.80,392.40 C119.98,391.70 128.12,391.87 136.30,391.30 C144.48,390.73 152.67,389.97 160.90,389.00 C169.13,388.03 177.45,386.80 185.70,385.50 C193.95,384.20 202.10,382.08 210.40,381.20 C218.70,380.32 227.10,380.32 235.50,380.20 C243.90,380.08 252.57,380.87 260.80,380.50 C269.03,380.13 276.88,380.88 284.90,378.00 C292.92,375.12 300.88,369.60 308.90,363.20 C316.92,356.80 325.85,346.00 333.00,339.60 C340.15,333.20 348.67,327.27 351.80,324.80" fill="none" stroke="#e6a50a" stroke-width="3.0" stroke-linecap="round" stroke-linejoin="round"/>
<path d="M284.90,378.00 C288.90,376.55 300.88,374.10 308.90,369.30 C316.92,364.50 325.85,356.62 333.00,349.20 C340.15,341.78 348.67,328.87 351.80,324.80" fill="none" stroke="#e6a50a" stroke-width="3.0" stroke-linecap="round" stroke-linejoin="round"/>
<path d="M83.30,392.38 L91.10,392.38 L87.20,399.20 Z" fill="#e6a50a"/>
<path d="M107.90,389.28 L115.70,389.28 L111.80,396.10 Z" fill="#e6a50a"/>
<path d="M132.40,388.18 L140.20,388.18 L136.30,395.00 Z" fill="#e6a50a"/>
<path d="M157.00,385.88 L164.80,385.88 L160.90,392.70 Z" fill="#e6a50a"/>
<path d="M181.80,382.38 L189.60,382.38 L185.70,389.20 Z" fill="#e6a50a"/>
<path d="M206.50,378.08 L214.30,378.08 L210.40,384.90 Z" fill="#e6a50a"/>
<path d="M231.60,377.08 L239.40,377.08 L235.50,383.90 Z" fill="#e6a50a"/>
<path d="M256.90,377.38 L264.70,377.38 L260.80,384.20 Z" fill="#e6a50a"/>
<path d="M281.00,374.88 L288.80,374.88 L284.90,381.70 Z" fill="#e6a50a"/>
<path d="M305.00,360.08 L312.80,360.08 L308.90,366.90 Z" fill="#e6a50a"/>
<path d="M329.10,336.48 L336.90,336.48 L333.00,343.31 Z" fill="#e6a50a"/>
<path d="M347.90,321.68 L355.70,321.68 L351.80,328.50 Z" fill="#e6a50a"/>
<path d="M305.00,366.18 L312.80,366.18 L308.90,373.00 Z" fill="#e6a50a"/>
<path d="M329.10,346.08 L336.90,346.08 L333.00,352.90 Z" fill="#e6a50a"/>
<path d="M87.20,400.20 C91.30,399.70 103.62,398.25 111.80,397.20 C119.98,396.15 128.12,394.90 136.30,393.90 C144.48,392.90 152.67,391.77 160.90,391.20 C169.13,390.63 177.42,390.57 185.70,390.50 C193.98,390.43 202.30,390.92 210.60,390.80 C218.90,390.68 227.13,390.58 235.50,389.80 C243.87,389.02 252.57,386.92 260.80,386.10 C269.03,385.28 276.67,387.00 284.90,384.90 C293.13,382.80 301.98,377.93 310.20,373.50 C318.42,369.07 327.32,362.18 334.20,358.30 C341.08,354.42 348.62,351.55 351.50,350.20" fill="none" stroke="#6db54a" stroke-width="3.0" stroke-linecap="round" stroke-linejoin="round"/>
<circle cx="87.20" cy="400.20" r="3.30" fill="#6db54a"/>
<circle cx="111.80" cy="397.20" r="3.30" fill="#6db54a"/>
<circle cx="136.30" cy="393.90" r="3.30" fill="#6db54a"/>
<circle cx="160.90" cy="391.20" r="3.30" fill="#6db54a"/>
<circle cx="185.70" cy="390.50" r="3.30" fill="#6db54a"/>
<circle cx="210.60" cy="390.80" r="3.30" fill="#6db54a"/>
<circle cx="235.50" cy="389.80" r="3.30" fill="#6db54a"/>
<circle cx="260.80" cy="386.10" r="3.30" fill="#6db54a"/>
<circle cx="284.90" cy="384.90" r="3.30" fill="#6db54a"/>
<circle cx="310.20" cy="373.50" r="3.30" fill="#6db54a"/>
<circle cx="334.20" cy="358.30" r="3.30" fill="#6db54a"/>
<circle cx="351.50" cy="350.20" r="3.30" fill="#6db54a"/>
<path d="M68.80,392.00 C72.92,390.83 85.27,386.78 93.50,385.00 C101.73,383.22 109.98,381.87 118.20,381.30 C126.42,380.73 134.55,381.87 142.80,381.60 C151.05,381.33 159.45,380.45 167.70,379.70 C175.95,378.95 184.12,377.75 192.30,377.10 C200.48,376.45 208.63,376.12 216.80,375.80 C224.97,375.48 233.03,375.47 241.30,375.20 C249.57,374.93 258.17,375.25 266.40,374.20 C274.63,373.15 282.47,370.72 290.70,368.90 C298.93,367.08 307.48,366.13 315.80,363.30 C324.12,360.47 333.52,354.72 340.60,351.90 C347.68,349.08 355.35,347.32 358.30,346.40" fill="none" stroke="#a5a5a5" stroke-width="3.0" stroke-linecap="round" stroke-linejoin="round"/>
<rect x="65.60" y="388.80" width="6.40" height="6.40" fill="#a5a5a5"/>
<rect x="90.30" y="381.80" width="6.40" height="6.40" fill="#a5a5a5"/>
<rect x="115.00" y="378.10" width="6.40" height="6.40" fill="#a5a5a5"/>
<rect x="139.60" y="378.40" width="6.40" height="6.40" fill="#a5a5a5"/>
<rect x="164.50" y="376.50" width="6.40" height="6.40" fill="#a5a5a5"/>
<rect x="189.10" y="373.90" width="6.40" height="6.40" fill="#a5a5a5"/>
<rect x="213.60" y="372.60" width="6.40" height="6.40" fill="#a5a5a5"/>
<rect x="238.10" y="372.00" width="6.40" height="6.40" fill="#a5a5a5"/>
<rect x="263.20" y="371.00" width="6.40" height="6.40" fill="#a5a5a5"/>
<rect x="287.50" y="365.70" width="6.40" height="6.40" fill="#a5a5a5"/>
<rect x="312.60" y="360.10" width="6.40" height="6.40" fill="#a5a5a5"/>
<rect x="337.40" y="348.70" width="6.40" height="6.40" fill="#a5a5a5"/>
<rect x="355.10" y="343.20" width="6.40" height="6.40" fill="#a5a5a5"/>
<path d="M68.80,399.60 C72.92,398.78 85.27,396.02 93.50,394.70 C101.73,393.38 109.98,392.27 118.20,391.70 C126.42,391.13 134.55,391.77 142.80,391.30 C151.05,390.83 159.45,389.53 167.70,388.90 C175.95,388.27 184.12,388.10 192.30,387.50 C200.48,386.90 208.63,385.83 216.80,385.30 C224.97,384.77 233.03,384.60 241.30,384.30 C249.57,384.00 258.17,384.05 266.40,383.50 C274.63,382.95 282.47,382.33 290.70,381.00 C298.93,379.67 307.48,378.23 315.80,375.50 C324.12,372.77 333.52,367.18 340.60,364.60 C347.68,362.02 355.35,360.77 358.30,360.00" fill="none" stroke="#ef7b2c" stroke-width="3.0" stroke-linecap="round" stroke-linejoin="round"/>
<path d="M68.80,394.80 C72.92,393.87 85.27,390.48 93.50,389.20 C101.73,387.92 109.98,387.47 118.20,387.10 C126.42,386.73 134.55,387.02 142.80,387.00 C151.05,386.98 163.55,387.00 167.70,387.00" fill="none" stroke="#ef7b2c" stroke-width="3.0" stroke-linecap="round" stroke-linejoin="round"/>
<polygon points="68.80,396.10 72.13,398.52 70.86,402.43 66.74,402.43 65.47,398.52" fill="#ef7b2c"/>
<polygon points="93.50,391.20 96.83,393.62 95.56,397.53 91.44,397.53 90.17,393.62" fill="#ef7b2c"/>
<polygon points="118.20,388.20 121.53,390.62 120.26,394.53 116.14,394.53 114.87,390.62" fill="#ef7b2c"/>
<polygon points="142.80,387.80 146.13,390.22 144.86,394.13 140.74,394.13 139.47,390.22" fill="#ef7b2c"/>
<polygon points="167.70,385.40 171.03,387.82 169.76,391.73 165.64,391.73 164.37,387.82" fill="#ef7b2c"/>
<polygon points="192.30,384.00 195.63,386.42 194.36,390.33 190.24,390.33 188.97,386.42" fill="#ef7b2c"/>
<polygon points="216.80,381.80 220.13,384.22 218.86,388.13 214.74,388.13 213.47,384.22" fill="#ef7b2c"/>
<polygon points="241.30,380.80 244.63,383.22 243.36,387.13 239.24,387.13 237.97,383.22" fill="#ef7b2c"/>
<polygon points="266.40,380.00 269.73,382.42 268.46,386.33 264.34,386.33 263.07,382.42" fill="#ef7b2c"/>
<polygon points="290.70,377.50 294.03,379.92 292.76,383.83 288.64,383.83 287.37,379.92" fill="#ef7b2c"/>
<polygon points="315.80,372.00 319.13,374.42 317.86,378.33 313.74,378.33 312.47,374.42" fill="#ef7b2c"/>
<polygon points="340.60,361.10 343.93,363.52 342.66,367.43 338.54,367.43 337.27,363.52" fill="#ef7b2c"/>
<polygon points="358.30,356.50 361.63,358.92 360.36,362.83 356.24,362.83 354.97,358.92" fill="#ef7b2c"/>
<path d="M68.80,393.00 C72.92,392.07 85.27,388.67 93.50,387.40 C101.73,386.13 109.98,385.70 118.20,385.40 C126.42,385.10 134.55,385.57 142.80,385.60 C151.05,385.63 159.45,385.95 167.70,385.60 C175.95,385.25 184.12,383.87 192.30,383.50 C200.48,383.13 208.63,383.35 216.80,383.40 C224.97,383.45 233.03,383.68 241.30,383.80 C249.57,383.92 258.17,384.47 266.40,384.10 C274.63,383.73 282.47,382.87 290.70,381.60 C298.93,380.33 307.48,379.03 315.80,376.50 C324.12,373.97 333.52,368.93 340.60,366.40 C347.68,363.87 355.35,362.15 358.30,361.30" fill="none" stroke="#8063ad" stroke-width="3.0" stroke-linecap="round" stroke-linejoin="round"/>
<path d="M68.80,396.60 C72.92,395.68 85.27,392.38 93.50,391.10 C101.73,389.82 109.98,389.32 118.20,388.90 C126.42,388.48 134.55,388.68 142.80,388.60 C151.05,388.52 159.45,388.77 167.70,388.40 C175.95,388.03 184.12,386.78 192.30,386.40 C200.48,386.02 208.63,386.25 216.80,386.10 C224.97,385.95 233.03,385.78 241.30,385.50 C249.57,385.22 262.22,384.58 266.40,384.40" fill="none" stroke="#8063ad" stroke-width="3.0" stroke-linecap="round" stroke-linejoin="round"/>
<polygon points="68.80,389.20 69.74,391.71 72.41,391.83 70.32,393.49 71.03,396.07 68.80,394.60 66.57,396.07 67.28,393.49 65.19,391.83 67.86,391.71" fill="#8063ad"/>
<polygon points="93.50,383.60 94.44,386.11 97.11,386.23 95.02,387.89 95.73,390.47 93.50,389.00 91.27,390.47 91.98,387.89 89.89,386.23 92.56,386.11" fill="#8063ad"/>
<polygon points="118.20,381.60 119.14,384.11 121.81,384.23 119.72,385.89 120.43,388.47 118.20,387.00 115.97,388.47 116.68,385.89 114.59,384.23 117.26,384.11" fill="#8063ad"/>
<polygon points="142.80,381.80 143.74,384.31 146.41,384.43 144.32,386.09 145.03,388.67 142.80,387.20 140.57,388.67 141.28,386.09 139.19,384.43 141.86,384.31" fill="#8063ad"/>
<polygon points="167.70,381.80 168.64,384.31 171.31,384.43 169.22,386.09 169.93,388.67 167.70,387.20 165.47,388.67 166.18,386.09 164.09,384.43 166.76,384.31" fill="#8063ad"/>
<polygon points="192.30,379.70 193.24,382.21 195.91,382.33 193.82,383.99 194.53,386.57 192.30,385.10 190.07,386.57 190.78,383.99 188.69,382.33 191.36,382.21" fill="#8063ad"/>
<polygon points="216.80,379.60 217.74,382.11 220.41,382.23 218.32,383.89 219.03,386.47 216.80,385.00 214.57,386.47 215.28,383.89 213.19,382.23 215.86,382.11" fill="#8063ad"/>
<polygon points="241.30,380.00 242.24,382.51 244.91,382.63 242.82,384.29 243.53,386.87 241.30,385.40 239.07,386.87 239.78,384.29 237.69,382.63 240.36,382.51" fill="#8063ad"/>
<polygon points="266.40,380.30 267.34,382.81 270.01,382.93 267.92,384.59 268.63,387.17 266.40,385.70 264.17,387.17 264.88,384.59 262.79,382.93 265.46,382.81" fill="#8063ad"/>
<polygon points="290.70,377.80 291.64,380.31 294.31,380.43 292.22,382.09 292.93,384.67 290.70,383.20 288.47,384.67 289.18,382.09 287.09,380.43 289.76,380.31" fill="#8063ad"/>
<polygon points="315.80,372.70 316.74,375.21 319.41,375.33 317.32,376.99 318.03,379.57 315.80,378.10 313.57,379.57 314.28,376.99 312.19,375.33 314.86,375.21" fill="#8063ad"/>
<polygon points="340.60,362.60 341.54,365.11 344.21,365.23 342.12,366.89 342.83,369.47 340.60,368.00 338.37,369.47 339.08,366.89 336.99,365.23 339.66,365.11" fill="#8063ad"/>
<polygon points="358.30,357.50 359.24,360.01 361.91,360.13 359.82,361.79 360.53,364.37 358.30,362.90 356.07,364.37 356.78,361.79 354.69,360.13 357.36,360.01" fill="#8063ad"/>
<polygon points="68.80,392.80 69.74,395.31 72.41,395.43 70.32,397.09 71.03,399.67 68.80,398.20 66.57,399.67 67.28,397.09 65.19,395.43 67.86,395.31" fill="#8063ad"/>
<polygon points="93.50,387.30 94.44,389.81 97.11,389.93 95.02,391.59 95.73,394.17 93.50,392.70 91.27,394.17 91.98,391.59 89.89,389.93 92.56,389.81" fill="#8063ad"/>
<polygon points="118.20,385.10 119.14,387.61 121.81,387.73 119.72,389.39 120.43,391.97 118.20,390.50 115.97,391.97 116.68,389.39 114.59,387.73 117.26,387.61" fill="#8063ad"/>
<polygon points="142.80,384.80 143.74,387.31 146.41,387.43 144.32,389.09 145.03,391.67 142.80,390.20 140.57,391.67 141.28,389.09 139.19,387.43 141.86,387.31" fill="#8063ad"/>
<polygon points="167.70,384.60 168.64,387.11 171.31,387.23 169.22,388.89 169.93,391.47 167.70,390.00 165.47,391.47 166.18,388.89 164.09,387.23 166.76,387.11" fill="#8063ad"/>
<polygon points="192.30,382.60 193.24,385.11 195.91,385.23 193.82,386.89 194.53,389.47 192.30,388.00 190.07,389.47 190.78,386.89 188.69,385.23 191.36,385.11" fill="#8063ad"/>
<polygon points="216.80,382.30 217.74,384.81 220.41,384.93 218.32,386.59 219.03,389.17 216.80,387.70 214.57,389.17 215.28,386.59 213.19,384.93 215.86,384.81" fill="#8063ad"/>
<polygon points="241.30,381.70 242.24,384.21 244.91,384.33 242.82,385.99 243.53,388.57 241.30,387.10 239.07,388.57 239.78,385.99 237.69,384.33 240.36,384.21" fill="#8063ad"/>
</g>
<rect x="54.50" y="216.90" width="318.00" height="197.10" fill="none" stroke="#262626" stroke-width="1"/>
<line x1="51.00" y1="400.70" x2="54.50" y2="400.70" stroke="#262626" stroke-width="0.9"/>
<text x="47.2" y="405.20" text-anchor="end" style="font-family:'Liberation Sans',sans-serif;font-size:12.5px" fill="#1a1a1a" textLength="26.6" lengthAdjust="spacingAndGlyphs">0.00</text>
<line x1="51.00" y1="374.44" x2="54.50" y2="374.44" stroke="#262626" stroke-width="0.9"/>
<text x="47.2" y="378.94" text-anchor="end" style="font-family:'Liberation Sans',sans-serif;font-size:12.5px" fill="#1a1a1a" textLength="26.6" lengthAdjust="spacingAndGlyphs">0.02</text>
<line x1="51.00" y1="348.18" x2="54.50" y2="348.18" stroke="#262626" stroke-width="0.9"/>
<text x="47.2" y="352.68" text-anchor="end" style="font-family:'Liberation Sans',sans-serif;font-size:12.5px" fill="#1a1a1a" textLength="26.6" lengthAdjust="spacingAndGlyphs">0.04</text>
<line x1="51.00" y1="321.92" x2="54.50" y2="321.92" stroke="#262626" stroke-width="0.9"/>
<text x="47.2" y="326.42" text-anchor="end" style="font-family:'Liberation Sans',sans-serif;font-size:12.5px" fill="#1a1a1a" textLength="26.6" lengthAdjust="spacingAndGlyphs">0.06</text>
<line x1="51.00" y1="295.66" x2="54.50" y2="295.66" stroke="#262626" stroke-width="0.9"/>
<text x="47.2" y="300.16" text-anchor="end" style="font-family:'Liberation Sans',sans-serif;font-size:12.5px" fill="#1a1a1a" textLength="26.6" lengthAdjust="spacingAndGlyphs">0.08</text>
<line x1="51.00" y1="269.40" x2="54.50" y2="269.40" stroke="#262626" stroke-width="0.9"/>
<text x="47.2" y="273.90" text-anchor="end" style="font-family:'Liberation Sans',sans-serif;font-size:12.5px" fill="#1a1a1a" textLength="26.6" lengthAdjust="spacingAndGlyphs">0.10</text>
<line x1="51.00" y1="243.14" x2="54.50" y2="243.14" stroke="#262626" stroke-width="0.9"/>
<text x="47.2" y="247.64" text-anchor="end" style="font-family:'Liberation Sans',sans-serif;font-size:12.5px" fill="#1a1a1a" textLength="26.6" lengthAdjust="spacingAndGlyphs">0.12</text>
<line x1="51.00" y1="216.88" x2="54.50" y2="216.88" stroke="#262626" stroke-width="0.9"/>
<text x="47.2" y="221.38" text-anchor="end" style="font-family:'Liberation Sans',sans-serif;font-size:12.5px" fill="#1a1a1a" textLength="26.6" lengthAdjust="spacingAndGlyphs">0.14</text>
<line x1="55.80" y1="414.00" x2="55.80" y2="416.00" stroke="#262626" stroke-width="0.7"/>
<line x1="63.10" y1="414.00" x2="63.10" y2="416.00" stroke="#262626" stroke-width="0.7"/>
<line x1="69.43" y1="414.00" x2="69.43" y2="416.00" stroke="#262626" stroke-width="0.7"/>
<line x1="75.01" y1="414.00" x2="75.01" y2="416.00" stroke="#262626" stroke-width="0.7"/>
<line x1="80.00" y1="414.00" x2="80.00" y2="417.50" stroke="#262626" stroke-width="0.9"/>
<text x="70.20" y="429.7" style="font-family:'Liberation Sans',sans-serif;font-size:12.8px" fill="#1a1a1a" textLength="15.2" lengthAdjust="spacingAndGlyphs">10</text><text x="85.50" y="424.7" style="font-family:'Liberation Sans',sans-serif;font-size:9.2px" fill="#1a1a1a">2</text>
<line x1="112.84" y1="414.00" x2="112.84" y2="416.00" stroke="#262626" stroke-width="0.7"/>
<line x1="132.05" y1="414.00" x2="132.05" y2="416.00" stroke="#262626" stroke-width="0.7"/>
<line x1="145.68" y1="414.00" x2="145.68" y2="416.00" stroke="#262626" stroke-width="0.7"/>
<line x1="156.26" y1="414.00" x2="156.26" y2="416.00" stroke="#262626" stroke-width="0.7"/>
<line x1="164.90" y1="414.00" x2="164.90" y2="416.00" stroke="#262626" stroke-width="0.7"/>
<line x1="172.20" y1="414.00" x2="172.20" y2="416.00" stroke="#262626" stroke-width="0.7"/>
<line x1="178.53" y1="414.00" x2="178.53" y2="416.00" stroke="#262626" stroke-width="0.7"/>
<line x1="184.11" y1="414.00" x2="184.11" y2="416.00" stroke="#262626" stroke-width="0.7"/>
<line x1="189.10" y1="414.00" x2="189.10" y2="417.50" stroke="#262626" stroke-width="0.9"/>
<text x="179.30" y="429.7" style="font-family:'Liberation Sans',sans-serif;font-size:12.8px" fill="#1a1a1a" textLength="15.2" lengthAdjust="spacingAndGlyphs">10</text><text x="194.60" y="424.7" style="font-family:'Liberation Sans',sans-serif;font-size:9.2px" fill="#1a1a1a">3</text>
<line x1="221.94" y1="414.00" x2="221.94" y2="416.00" stroke="#262626" stroke-width="0.7"/>
<line x1="241.15" y1="414.00" x2="241.15" y2="416.00" stroke="#262626" stroke-width="0.7"/>
<line x1="254.78" y1="414.00" x2="254.78" y2="416.00" stroke="#262626" stroke-width="0.7"/>
<line x1="265.36" y1="414.00" x2="265.36" y2="416.00" stroke="#262626" stroke-width="0.7"/>
<line x1="274.00" y1="414.00" x2="274.00" y2="416.00" stroke="#262626" stroke-width="0.7"/>
<line x1="281.30" y1="414.00" x2="281.30" y2="416.00" stroke="#262626" stroke-width="0.7"/>
<line x1="287.63" y1="414.00" x2="287.63" y2="416.00" stroke="#262626" stroke-width="0.7"/>
<line x1="293.21" y1="414.00" x2="293.21" y2="416.00" stroke="#262626" stroke-width="0.7"/>
<line x1="298.20" y1="414.00" x2="298.20" y2="417.50" stroke="#262626" stroke-width="0.9"/>
<text x="288.40" y="429.7" style="font-family:'Liberation Sans',sans-serif;font-size:12.8px" fill="#1a1a1a" textLength="15.2" lengthAdjust="spacingAndGlyphs">10</text><text x="303.70" y="424.7" style="font-family:'Liberation Sans',sans-serif;font-size:9.2px" fill="#1a1a1a">4</text>
<line x1="331.04" y1="414.00" x2="331.04" y2="416.00" stroke="#262626" stroke-width="0.7"/>
<line x1="350.25" y1="414.00" x2="350.25" y2="416.00" stroke="#262626" stroke-width="0.7"/>
<line x1="363.88" y1="414.00" x2="363.88" y2="416.00" stroke="#262626" stroke-width="0.7"/>
<g clip-path="url(#clipd)">
<path d="M424.60,397.70 C428.72,397.63 441.07,396.95 449.30,397.30 C457.53,397.65 465.77,399.27 474.00,399.80 C482.23,400.33 490.43,400.20 498.70,400.50 C506.97,400.80 515.38,401.17 523.60,401.60 C531.82,402.03 539.85,402.60 548.00,403.10 C556.15,403.60 564.28,404.78 572.50,404.60 C580.72,404.42 589.08,402.80 597.30,402.00 C605.52,401.20 613.58,400.22 621.80,399.80 C630.02,399.38 638.33,399.30 646.60,399.50 C654.87,399.70 663.13,401.08 671.40,401.00 C679.67,400.92 689.13,400.00 696.20,399.00 C703.27,398.00 710.87,395.67 713.80,395.00" fill="none" stroke="#3d6da5" stroke-width="3.0" stroke-linecap="round" stroke-linejoin="round"/>
<circle cx="424.60" cy="397.70" r="3.30" fill="#3d6da5"/>
<circle cx="449.30" cy="397.30" r="3.30" fill="#3d6da5"/>
<circle cx="474.00" cy="399.80" r="3.30" fill="#3d6da5"/>
<circle cx="498.70" cy="400.50" r="3.30" fill="#3d6da5"/>
<circle cx="523.60" cy="401.60" r="3.30" fill="#3d6da5"/>
<circle cx="548.00" cy="403.10" r="3.30" fill="#3d6da5"/>
<circle cx="572.50" cy="404.60" r="3.30" fill="#3d6da5"/>
<circle cx="597.30" cy="402.00" r="3.30" fill="#3d6da5"/>
<circle cx="621.80" cy="399.80" r="3.30" fill="#3d6da5"/>
<circle cx="646.60" cy="399.50" r="3.30" fill="#3d6da5"/>
<circle cx="671.40" cy="401.00" r="3.30" fill="#3d6da5"/>
<circle cx="696.20" cy="399.00" r="3.30" fill="#3d6da5"/>
<circle cx="713.80" cy="395.00" r="3.30" fill="#3d6da5"/>
<path d="M443.10,382.00 C447.22,382.12 459.57,382.43 467.80,382.70 C476.03,382.97 484.33,383.72 492.50,383.60 C500.67,383.48 508.60,382.07 516.80,382.00 C525.00,381.93 533.40,383.15 541.70,383.20 C550.00,383.25 558.37,383.05 566.60,382.30 C574.83,381.55 582.92,379.63 591.10,378.70 C599.28,377.77 607.50,377.60 615.70,376.70 C623.90,375.80 632.10,374.45 640.30,373.30 C648.50,372.15 656.67,370.78 664.90,369.80 C673.13,368.82 682.68,368.68 689.70,367.40 C696.72,366.12 704.12,362.98 707.00,362.10" fill="none" stroke="#e6a50a" stroke-width="3.0" stroke-linecap="round" stroke-linejoin="round"/>
<path d="M443.10,388.80 C447.22,388.98 459.57,389.62 467.80,389.90 C476.03,390.18 484.33,390.90 492.50,390.50 C500.67,390.10 508.60,388.42 516.80,387.50 C525.00,386.58 533.40,385.87 541.70,385.00 C550.00,384.13 562.45,382.75 566.60,382.30" fill="none" stroke="#e6a50a" stroke-width="3.0" stroke-linecap="round" stroke-linejoin="round"/>
<path d="M439.20,378.88 L447.00,378.88 L443.10,385.70 Z" fill="#e6a50a"/>
<path d="M463.90,379.58 L471.70,379.58 L467.80,386.40 Z" fill="#e6a50a"/>
<path d="M488.60,380.48 L496.40,380.48 L492.50,387.31 Z" fill="#e6a50a"/>
<path d="M512.90,378.88 L520.70,378.88 L516.80,385.70 Z" fill="#e6a50a"/>
<path d="M537.80,380.08 L545.60,380.08 L541.70,386.90 Z" fill="#e6a50a"/>
<path d="M562.70,379.18 L570.50,379.18 L566.60,386.00 Z" fill="#e6a50a"/>
<path d="M587.20,375.58 L595.00,375.58 L591.10,382.40 Z" fill="#e6a50a"/>
<path d="M611.80,373.58 L619.60,373.58 L615.70,380.40 Z" fill="#e6a50a"/>
<path d="M636.40,370.18 L644.20,370.18 L640.30,377.00 Z" fill="#e6a50a"/>
<path d="M661.00,366.68 L668.80,366.68 L664.90,373.50 Z" fill="#e6a50a"/>
<path d="M685.80,364.28 L693.60,364.28 L689.70,371.10 Z" fill="#e6a50a"/>
<path d="M703.10,358.98 L710.90,358.98 L707.00,365.81 Z" fill="#e6a50a"/>
<path d="M439.20,385.68 L447.00,385.68 L443.10,392.50 Z" fill="#e6a50a"/>
<path d="M463.90,386.78 L471.70,386.78 L467.80,393.60 Z" fill="#e6a50a"/>
<path d="M488.60,387.38 L496.40,387.38 L492.50,394.20 Z" fill="#e6a50a"/>
<path d="M443.10,385.40 C447.22,385.63 459.57,386.42 467.80,386.80 C476.03,387.18 484.33,387.93 492.50,387.70 C500.67,387.47 508.60,385.70 516.80,385.40 C525.00,385.10 533.40,385.92 541.70,385.90 C550.00,385.88 558.37,385.62 566.60,385.30 C574.83,384.98 582.92,384.42 591.10,384.00 C599.28,383.58 607.50,383.38 615.70,382.80 C623.90,382.22 632.10,381.38 640.30,380.50 C648.50,379.62 656.67,378.57 664.90,377.50 C673.13,376.43 682.68,375.42 689.70,374.10 C696.72,372.78 704.12,370.35 707.00,369.60" fill="none" stroke="#6db54a" stroke-width="3.0" stroke-linecap="round" stroke-linejoin="round"/>
<path d="M443.10,391.60 C447.22,391.93 459.57,393.27 467.80,393.60 C476.03,393.93 484.33,394.20 492.50,393.60 C500.67,393.00 508.60,390.77 516.80,390.00 C525.00,389.23 533.40,388.95 541.70,389.00 C550.00,389.05 558.37,390.77 566.60,390.30 C574.83,389.83 582.92,387.45 591.10,386.20 C599.28,384.95 611.60,383.37 615.70,382.80" fill="none" stroke="#6db54a" stroke-width="3.0" stroke-linecap="round" stroke-linejoin="round"/>
<circle cx="443.10" cy="385.40" r="3.30" fill="#6db54a"/>
<circle cx="467.80" cy="386.80" r="3.30" fill="#6db54a"/>
<circle cx="492.50" cy="387.70" r="3.30" fill="#6db54a"/>
<circle cx="516.80" cy="385.40" r="3.30" fill="#6db54a"/>
<circle cx="541.70" cy="385.90" r="3.30" fill="#6db54a"/>
<circle cx="566.60" cy="385.30" r="3.30" fill="#6db54a"/>
<circle cx="591.10" cy="384.00" r="3.30" fill="#6db54a"/>
<circle cx="615.70" cy="382.80" r="3.30" fill="#6db54a"/>
<circle cx="640.30" cy="380.50" r="3.30" fill="#6db54a"/>
<circle cx="664.90" cy="377.50" r="3.30" fill="#6db54a"/>
<circle cx="689.70" cy="374.10" r="3.30" fill="#6db54a"/>
<circle cx="707.00" cy="369.60" r="3.30" fill="#6db54a"/>
<circle cx="443.10" cy="391.60" r="3.30" fill="#6db54a"/>
<circle cx="467.80" cy="393.60" r="3.30" fill="#6db54a"/>
<circle cx="492.50" cy="393.60" r="3.30" fill="#6db54a"/>
<circle cx="516.80" cy="390.00" r="3.30" fill="#6db54a"/>
<circle cx="541.70" cy="389.00" r="3.30" fill="#6db54a"/>
<circle cx="566.60" cy="390.30" r="3.30" fill="#6db54a"/>
<circle cx="591.10" cy="386.20" r="3.30" fill="#6db54a"/>
<path d="M424.60,402.80 C428.72,402.77 441.07,402.92 449.30,402.60 C457.53,402.28 465.77,401.82 474.00,400.90 C482.23,399.98 490.43,398.75 498.70,397.10 C506.97,395.45 515.38,392.45 523.60,391.00 C531.82,389.55 539.85,389.18 548.00,388.40 C556.15,387.62 564.28,387.37 572.50,386.30 C580.72,385.23 589.08,383.10 597.30,382.00 C605.52,380.90 613.58,380.65 621.80,379.70 C630.02,378.75 638.33,377.33 646.60,376.30 C654.87,375.27 663.13,374.48 671.40,373.50 C679.67,372.52 689.13,371.75 696.20,370.40 C703.27,369.05 710.87,366.23 713.80,365.40" fill="none" stroke="#a5a5a5" stroke-width="3.0" stroke-linecap="round" stroke-linejoin="round"/>
<rect x="421.40" y="399.60" width="6.40" height="6.40" fill="#a5a5a5"/>
<rect x="446.10" y="399.40" width="6.40" height="6.40" fill="#a5a5a5"/>
<rect x="470.80" y="397.70" width="6.40" height="6.40" fill="#a5a5a5"/>
<rect x="495.50" y="393.90" width="6.40" height="6.40" fill="#a5a5a5"/>
<rect x="520.40" y="387.80" width="6.40" height="6.40" fill="#a5a5a5"/>
<rect x="544.80" y="385.20" width="6.40" height="6.40" fill="#a5a5a5"/>
<rect x="569.30" y="383.10" width="6.40" height="6.40" fill="#a5a5a5"/>
<rect x="594.10" y="378.80" width="6.40" height="6.40" fill="#a5a5a5"/>
<rect x="618.60" y="376.50" width="6.40" height="6.40" fill="#a5a5a5"/>
<rect x="643.40" y="373.10" width="6.40" height="6.40" fill="#a5a5a5"/>
<rect x="668.20" y="370.30" width="6.40" height="6.40" fill="#a5a5a5"/>
<rect x="693.00" y="367.20" width="6.40" height="6.40" fill="#a5a5a5"/>
<rect x="710.60" y="362.20" width="6.40" height="6.40" fill="#a5a5a5"/>
<path d="M424.60,406.70 C428.72,406.18 441.07,404.33 449.30,403.60 C457.53,402.87 465.77,402.58 474.00,402.30 C482.23,402.02 490.43,402.88 498.70,401.90 C506.97,400.92 515.38,397.82 523.60,396.40 C531.82,394.98 539.85,394.07 548.00,393.40 C556.15,392.73 564.28,393.22 572.50,392.40 C580.72,391.58 589.08,389.53 597.30,388.50 C605.52,387.47 613.58,387.03 621.80,386.20 C630.02,385.37 638.33,384.28 646.60,383.50 C654.87,382.72 663.13,382.05 671.40,381.50 C679.67,380.95 689.13,380.97 696.20,380.20 C703.27,379.43 710.87,377.45 713.80,376.90" fill="none" stroke="#ef7b2c" stroke-width="3.0" stroke-linecap="round" stroke-linejoin="round"/>
<polygon points="424.60,403.20 427.93,405.62 426.66,409.53 422.54,409.53 421.27,405.62" fill="#ef7b2c"/>
<polygon points="449.30,400.10 452.63,402.52 451.36,406.43 447.24,406.43 445.97,402.52" fill="#ef7b2c"/>
<polygon points="474.00,398.80 477.33,401.22 476.06,405.13 471.94,405.13 470.67,401.22" fill="#ef7b2c"/>
<polygon points="498.70,398.40 502.03,400.82 500.76,404.73 496.64,404.73 495.37,400.82" fill="#ef7b2c"/>
<polygon points="523.60,392.90 526.93,395.32 525.66,399.23 521.54,399.23 520.27,395.32" fill="#ef7b2c"/>
<polygon points="548.00,389.90 551.33,392.32 550.06,396.23 545.94,396.23 544.67,392.32" fill="#ef7b2c"/>
<polygon points="572.50,388.90 575.83,391.32 574.56,395.23 570.44,395.23 569.17,391.32" fill="#ef7b2c"/>
<polygon points="597.30,385.00 600.63,387.42 599.36,391.33 595.24,391.33 593.97,387.42" fill="#ef7b2c"/>
<polygon points="621.80,382.70 625.13,385.12 623.86,389.03 619.74,389.03 618.47,385.12" fill="#ef7b2c"/>
<polygon points="646.60,380.00 649.93,382.42 648.66,386.33 644.54,386.33 643.27,382.42" fill="#ef7b2c"/>
<polygon points="671.40,378.00 674.73,380.42 673.46,384.33 669.34,384.33 668.07,380.42" fill="#ef7b2c"/>
<polygon points="696.20,376.70 699.53,379.12 698.26,383.03 694.14,383.03 692.87,379.12" fill="#ef7b2c"/>
<polygon points="713.80,373.40 717.13,375.82 715.86,379.73 711.74,379.73 710.47,375.82" fill="#ef7b2c"/>
<path d="M424.60,409.70 C428.72,409.15 441.07,407.25 449.30,406.40 C457.53,405.55 465.77,404.52 474.00,404.60 C482.23,404.68 490.43,407.95 498.70,406.90 C506.97,405.85 515.38,400.12 523.60,398.30 C531.82,396.48 539.85,396.33 548.00,396.00 C556.15,395.67 564.28,396.83 572.50,396.30 C580.72,395.77 589.08,393.72 597.30,392.80 C605.52,391.88 613.58,391.55 621.80,390.80 C630.02,390.05 638.33,388.93 646.60,388.30 C654.87,387.67 663.13,387.60 671.40,387.00 C679.67,386.40 689.13,385.47 696.20,384.70 C703.27,383.93 710.87,382.78 713.80,382.40" fill="none" stroke="#8063ad" stroke-width="3.0" stroke-linecap="round" stroke-linejoin="round"/>
<polygon points="424.60,405.90 425.54,408.41 428.21,408.53 426.12,410.19 426.83,412.77 424.60,411.30 422.37,412.77 423.08,410.19 420.99,408.53 423.66,408.41" fill="#8063ad"/>
<polygon points="449.30,402.60 450.24,405.11 452.91,405.23 450.82,406.89 451.53,409.47 449.30,408.00 447.07,409.47 447.78,406.89 445.69,405.23 448.36,405.11" fill="#8063ad"/>
<polygon points="474.00,400.80 474.94,403.31 477.61,403.43 475.52,405.09 476.23,407.67 474.00,406.20 471.77,407.67 472.48,405.09 470.39,403.43 473.06,403.31" fill="#8063ad"/>
<polygon points="498.70,403.10 499.64,405.61 502.31,405.73 500.22,407.39 500.93,409.97 498.70,408.50 496.47,409.97 497.18,407.39 495.09,405.73 497.76,405.61" fill="#8063ad"/>
<polygon points="523.60,394.50 524.54,397.01 527.21,397.13 525.12,398.79 525.83,401.37 523.60,399.90 521.37,401.37 522.08,398.79 519.99,397.13 522.66,397.01" fill="#8063ad"/>
<polygon points="548.00,392.20 548.94,394.71 551.61,394.83 549.52,396.49 550.23,399.07 548.00,397.60 545.77,399.07 546.48,396.49 544.39,394.83 547.06,394.71" fill="#8063ad"/>
<polygon points="572.50,392.50 573.44,395.01 576.11,395.13 574.02,396.79 574.73,399.37 572.50,397.90 570.27,399.37 570.98,396.79 568.89,395.13 571.56,395.01" fill="#8063ad"/>
<polygon points="597.30,389.00 598.24,391.51 600.91,391.63 598.82,393.29 599.53,395.87 597.30,394.40 595.07,395.87 595.78,393.29 593.69,391.63 596.36,391.51" fill="#8063ad"/>
<polygon points="621.80,387.00 622.74,389.51 625.41,389.63 623.32,391.29 624.03,393.87 621.80,392.40 619.57,393.87 620.28,391.29 618.19,389.63 620.86,389.51" fill="#8063ad"/>
<polygon points="646.60,384.50 647.54,387.01 650.21,387.13 648.12,388.79 648.83,391.37 646.60,389.90 644.37,391.37 645.08,388.79 642.99,387.13 645.66,387.01" fill="#8063ad"/>
<polygon points="671.40,383.20 672.34,385.71 675.01,385.83 672.92,387.49 673.63,390.07 671.40,388.60 669.17,390.07 669.88,387.49 667.79,385.83 670.46,385.71" fill="#8063ad"/>
<polygon points="696.20,380.90 697.14,383.41 699.81,383.53 697.72,385.19 698.43,387.77 696.20,386.30 693.97,387.77 694.68,385.19 692.59,383.53 695.26,383.41" fill="#8063ad"/>
<polygon points="713.80,378.60 714.74,381.11 717.41,381.23 715.32,382.89 716.03,385.47 713.80,384.00 711.57,385.47 712.28,382.89 710.19,381.23 712.86,381.11" fill="#8063ad"/>
</g>
<rect x="410.00" y="216.90" width="318.20" height="197.10" fill="none" stroke="#262626" stroke-width="1"/>
<line x1="406.50" y1="400.70" x2="410.00" y2="400.70" stroke="#262626" stroke-width="0.9"/>
<line x1="406.50" y1="374.44" x2="410.00" y2="374.44" stroke="#262626" stroke-width="0.9"/>
<line x1="406.50" y1="348.18" x2="410.00" y2="348.18" stroke="#262626" stroke-width="0.9"/>
<line x1="406.50" y1="321.92" x2="410.00" y2="321.92" stroke="#262626" stroke-width="0.9"/>
<line x1="406.50" y1="295.66" x2="410.00" y2="295.66" stroke="#262626" stroke-width="0.9"/>
<line x1="406.50" y1="269.40" x2="410.00" y2="269.40" stroke="#262626" stroke-width="0.9"/>
<line x1="406.50" y1="243.14" x2="410.00" y2="243.14" stroke="#262626" stroke-width="0.9"/>
<line x1="406.50" y1="216.88" x2="410.00" y2="216.88" stroke="#262626" stroke-width="0.9"/>
<line x1="411.10" y1="414.00" x2="411.10" y2="416.00" stroke="#262626" stroke-width="0.7"/>
<line x1="418.40" y1="414.00" x2="418.40" y2="416.00" stroke="#262626" stroke-width="0.7"/>
<line x1="424.73" y1="414.00" x2="424.73" y2="416.00" stroke="#262626" stroke-width="0.7"/>
<line x1="430.31" y1="414.00" x2="430.31" y2="416.00" stroke="#262626" stroke-width="0.7"/>
<line x1="435.30" y1="414.00" x2="435.30" y2="417.50" stroke="#262626" stroke-width="0.9"/>
<text x="425.50" y="429.7" style="font-family:'Liberation Sans',sans-serif;font-size:12.8px" fill="#1a1a1a" textLength="15.2" lengthAdjust="spacingAndGlyphs">10</text><text x="440.80" y="424.7" style="font-family:'Liberation Sans',sans-serif;font-size:9.2px" fill="#1a1a1a">2</text>
<line x1="468.14" y1="414.00" x2="468.14" y2="416.00" stroke="#262626" stroke-width="0.7"/>
<line x1="487.35" y1="414.00" x2="487.35" y2="416.00" stroke="#262626" stroke-width="0.7"/>
<line x1="500.98" y1="414.00" x2="500.98" y2="416.00" stroke="#262626" stroke-width="0.7"/>
<line x1="511.56" y1="414.00" x2="511.56" y2="416.00" stroke="#262626" stroke-width="0.7"/>
<line x1="520.20" y1="414.00" x2="520.20" y2="416.00" stroke="#262626" stroke-width="0.7"/>
<line x1="527.50" y1="414.00" x2="527.50" y2="416.00" stroke="#262626" stroke-width="0.7"/>
<line x1="533.83" y1="414.00" x2="533.83" y2="416.00" stroke="#262626" stroke-width="0.7"/>
<line x1="539.41" y1="414.00" x2="539.41" y2="416.00" stroke="#262626" stroke-width="0.7"/>
<line x1="544.40" y1="414.00" x2="544.40" y2="417.50" stroke="#262626" stroke-width="0.9"/>
<text x="534.60" y="429.7" style="font-family:'Liberation Sans',sans-serif;font-size:12.8px" fill="#1a1a1a" textLength="15.2" lengthAdjust="spacingAndGlyphs">10</text><text x="549.90" y="424.7" style="font-family:'Liberation Sans',sans-serif;font-size:9.2px" fill="#1a1a1a">3</text>
<line x1="577.24" y1="414.00" x2="577.24" y2="416.00" stroke="#262626" stroke-width="0.7"/>
<line x1="596.45" y1="414.00" x2="596.45" y2="416.00" stroke="#262626" stroke-width="0.7"/>
<line x1="610.08" y1="414.00" x2="610.08" y2="416.00" stroke="#262626" stroke-width="0.7"/>
<line x1="620.66" y1="414.00" x2="620.66" y2="416.00" stroke="#262626" stroke-width="0.7"/>
<line x1="629.30" y1="414.00" x2="629.30" y2="416.00" stroke="#262626" stroke-width="0.7"/>
<line x1="636.60" y1="414.00" x2="636.60" y2="416.00" stroke="#262626" stroke-width="0.7"/>
<line x1="642.93" y1="414.00" x2="642.93" y2="416.00" stroke="#262626" stroke-width="0.7"/>
<line x1="648.51" y1="414.00" x2="648.51" y2="416.00" stroke="#262626" stroke-width="0.7"/>
<line x1="653.50" y1="414.00" x2="653.50" y2="417.50" stroke="#262626" stroke-width="0.9"/>
<text x="643.70" y="429.7" style="font-family:'Liberation Sans',sans-serif;font-size:12.8px" fill="#1a1a1a" textLength="15.2" lengthAdjust="spacingAndGlyphs">10</text><text x="659.00" y="424.7" style="font-family:'Liberation Sans',sans-serif;font-size:9.2px" fill="#1a1a1a">4</text>
<line x1="686.34" y1="414.00" x2="686.34" y2="416.00" stroke="#262626" stroke-width="0.7"/>
<line x1="705.55" y1="414.00" x2="705.55" y2="416.00" stroke="#262626" stroke-width="0.7"/>
<line x1="719.18" y1="414.00" x2="719.18" y2="416.00" stroke="#262626" stroke-width="0.7"/>
<circle cx="78.70" cy="21.90" r="2.97" fill="#3d6da5"/>
<text x="101.20" y="26.30" style="font-family:'Liberation Sans',sans-serif;font-size:12.5px" fill="#1a1a1a" textLength="15.7" lengthAdjust="spacingAndGlyphs">Pd</text>
<path d="M75.19,37.55 L82.21,37.55 L78.70,43.69 Z" fill="#e6a50a"/>
<text x="101.20" y="44.76" style="font-family:'Liberation Sans',sans-serif;font-size:12.5px" fill="#1a1a1a" textLength="64.9" lengthAdjust="spacingAndGlyphs">Pd90Au10</text>
<circle cx="78.70" cy="58.82" r="2.97" fill="#6db54a"/>
<text x="101.20" y="63.22" style="font-family:'Liberation Sans',sans-serif;font-size:12.5px" fill="#1a1a1a" textLength="64.9" lengthAdjust="spacingAndGlyphs">Pd80Au20</text>
<rect x="75.82" y="74.40" width="5.76" height="5.76" fill="#a5a5a5"/>
<text x="101.20" y="81.68" style="font-family:'Liberation Sans',sans-serif;font-size:12.5px" fill="#1a1a1a" textLength="64.9" lengthAdjust="spacingAndGlyphs">Pd70Au30</text>
<polygon points="78.70,92.59 81.70,94.77 80.55,98.29 76.85,98.29 75.70,94.77" fill="#ef7b2c"/>
<text x="101.20" y="100.14" style="font-family:'Liberation Sans',sans-serif;font-size:12.5px" fill="#1a1a1a" textLength="64.9" lengthAdjust="spacingAndGlyphs">Pd60Au40</text>
<polygon points="78.70,110.78 79.54,113.04 81.95,113.14 80.07,114.64 80.71,116.97 78.70,115.64 76.69,116.97 77.33,114.64 75.45,113.14 77.86,113.04" fill="#8063ad"/>
<text x="101.20" y="118.60" style="font-family:'Liberation Sans',sans-serif;font-size:12.5px" fill="#1a1a1a" textLength="64.9" lengthAdjust="spacingAndGlyphs">Pd50Au50</text>
<circle cx="434.10" cy="20.60" r="2.97" fill="#3d6da5"/>
<text x="455.60" y="25.00" style="font-family:'Liberation Sans',sans-serif;font-size:12.5px" fill="#1a1a1a" textLength="15.7" lengthAdjust="spacingAndGlyphs">Pd</text>
<path d="M430.59,36.43 L437.61,36.43 L434.10,42.57 Z" fill="#e6a50a"/>
<text x="455.60" y="43.64" style="font-family:'Liberation Sans',sans-serif;font-size:12.5px" fill="#1a1a1a" textLength="64.9" lengthAdjust="spacingAndGlyphs">Pd90Au10</text>
<circle cx="434.10" cy="57.88" r="2.97" fill="#6db54a"/>
<text x="455.60" y="62.28" style="font-family:'Liberation Sans',sans-serif;font-size:12.5px" fill="#1a1a1a" textLength="64.9" lengthAdjust="spacingAndGlyphs">Pd80Au20</text>
<rect x="431.22" y="73.64" width="5.76" height="5.76" fill="#a5a5a5"/>
<text x="455.60" y="80.92" style="font-family:'Liberation Sans',sans-serif;font-size:12.5px" fill="#1a1a1a" textLength="64.9" lengthAdjust="spacingAndGlyphs">Pd70Au30</text>
<polygon points="434.10,92.01 437.10,94.19 435.95,97.71 432.25,97.71 431.10,94.19" fill="#ef7b2c"/>
<text x="455.60" y="99.56" style="font-family:'Liberation Sans',sans-serif;font-size:12.5px" fill="#1a1a1a" textLength="64.9" lengthAdjust="spacingAndGlyphs">Pd60Au40</text>
<polygon points="434.10,110.38 434.94,112.64 437.35,112.74 435.47,114.24 436.11,116.57 434.10,115.24 432.09,116.57 432.73,114.24 430.85,112.74 433.26,112.64" fill="#8063ad"/>
<text x="455.60" y="118.20" style="font-family:'Liberation Sans',sans-serif;font-size:12.5px" fill="#1a1a1a" textLength="64.9" lengthAdjust="spacingAndGlyphs">Pd50Au50</text>
<circle cx="78.40" cy="234.00" r="2.97" fill="#3d6da5"/>
<text x="100.80" y="238.40" style="font-family:'Liberation Sans',sans-serif;font-size:12.5px" fill="#1a1a1a" textLength="15.7" lengthAdjust="spacingAndGlyphs">Pd</text>
<path d="M74.89,249.69 L81.91,249.69 L78.40,255.83 Z" fill="#e6a50a"/>
<text x="100.80" y="256.90" style="font-family:'Liberation Sans',sans-serif;font-size:12.5px" fill="#1a1a1a" textLength="64.9" lengthAdjust="spacingAndGlyphs">Pd90Au10</text>
<circle cx="78.40" cy="271.00" r="2.97" fill="#6db54a"/>
<text x="100.80" y="275.40" style="font-family:'Liberation Sans',sans-serif;font-size:12.5px" fill="#1a1a1a" textLength="64.9" lengthAdjust="spacingAndGlyphs">Pd80Au20</text>
<rect x="75.52" y="286.62" width="5.76" height="5.76" fill="#a5a5a5"/>
<text x="100.80" y="293.90" style="font-family:'Liberation Sans',sans-serif;font-size:12.5px" fill="#1a1a1a" textLength="64.9" lengthAdjust="spacingAndGlyphs">Pd70Au30</text>
<polygon points="78.40,304.85 81.40,307.03 80.25,310.55 76.55,310.55 75.40,307.03" fill="#ef7b2c"/>
<text x="100.80" y="312.40" style="font-family:'Liberation Sans',sans-serif;font-size:12.5px" fill="#1a1a1a" textLength="64.9" lengthAdjust="spacingAndGlyphs">Pd60Au40</text>
<polygon points="78.40,323.08 79.24,325.34 81.65,325.44 79.77,326.94 80.41,329.27 78.40,327.94 76.39,329.27 77.03,326.94 75.15,325.44 77.56,325.34" fill="#8063ad"/>
<text x="100.80" y="330.90" style="font-family:'Liberation Sans',sans-serif;font-size:12.5px" fill="#1a1a1a" textLength="64.9" lengthAdjust="spacingAndGlyphs">Pd50Au50</text>
<circle cx="430.30" cy="234.80" r="2.97" fill="#3d6da5"/>
<text x="452.70" y="239.20" style="font-family:'Liberation Sans',sans-serif;font-size:12.5px" fill="#1a1a1a" textLength="15.7" lengthAdjust="spacingAndGlyphs">Pd</text>
<path d="M426.79,250.49 L433.81,250.49 L430.30,256.63 Z" fill="#e6a50a"/>
<text x="452.70" y="257.70" style="font-family:'Liberation Sans',sans-serif;font-size:12.5px" fill="#1a1a1a" textLength="64.9" lengthAdjust="spacingAndGlyphs">Pd90Au10</text>
<circle cx="430.30" cy="271.80" r="2.97" fill="#6db54a"/>
<text x="452.70" y="276.20" style="font-family:'Liberation Sans',sans-serif;font-size:12.5px" fill="#1a1a1a" textLength="64.9" lengthAdjust="spacingAndGlyphs">Pd80Au20</text>
<rect x="427.42" y="287.42" width="5.76" height="5.76" fill="#a5a5a5"/>
<text x="452.70" y="294.70" style="font-family:'Liberation Sans',sans-serif;font-size:12.5px" fill="#1a1a1a" textLength="64.9" lengthAdjust="spacingAndGlyphs">Pd70Au30</text>
<polygon points="430.30,305.65 433.30,307.83 432.15,311.35 428.45,311.35 427.30,307.83" fill="#ef7b2c"/>
<text x="452.70" y="313.20" style="font-family:'Liberation Sans',sans-serif;font-size:12.5px" fill="#1a1a1a" textLength="64.9" lengthAdjust="spacingAndGlyphs">Pd60Au40</text>
<polygon points="430.30,323.88 431.14,326.14 433.55,326.24 431.67,327.74 432.31,330.07 430.30,328.74 428.29,330.07 428.93,327.74 427.05,326.24 429.46,326.14" fill="#8063ad"/>
<text x="452.70" y="331.70" style="font-family:'Liberation Sans',sans-serif;font-size:12.5px" fill="#1a1a1a" textLength="64.9" lengthAdjust="spacingAndGlyphs">Pd50Au50</text>
<text x="304.90" y="24.50" style="font-family:'Liberation Sans',sans-serif;font-size:16.5px" fill="#1a1a1a">(a)</text>
<text x="693.70" y="23.80" style="font-family:'Liberation Sans',sans-serif;font-size:16.5px" fill="#1a1a1a">(b)</text>
<text x="332.60" y="236.80" style="font-family:'Liberation Sans',sans-serif;font-size:16.5px" fill="#1a1a1a">(c)</text>
<text x="693.90" y="237.90" style="font-family:'Liberation Sans',sans-serif;font-size:16.5px" fill="#1a1a1a">(d)</text>
<text x="79.50" y="141.70" style="font-family:'Liberation Sans',sans-serif;font-size:16.5px" fill="#1a1a1a">T = 28°C</text>
<text x="650.70" y="54.10" style="font-family:'Liberation Sans',sans-serif;font-size:16.5px" fill="#1a1a1a">T = 60°C</text>
<text x="289.30" y="263.40" style="font-family:'Liberation Sans',sans-serif;font-size:16.5px" fill="#1a1a1a">T = 90°C</text>
<text x="642.00" y="263.40" style="font-family:'Liberation Sans',sans-serif;font-size:16.5px" fill="#1a1a1a">T = 120°C</text>
<g transform="translate(11.2,156.00) rotate(-90)" fill="#1a1a1a"><text x="-1.00" y="0.00" style="font-family:'Liberation Serif',serif;font-size:14.2px" textLength="12.40" lengthAdjust="spacingAndGlyphs">ln</text><text x="11.40" y="1.20" style="font-family:'Liberation Serif',serif;font-size:15.5px" textLength="5.00" lengthAdjust="spacingAndGlyphs">(</text><text x="15.90" y="0.00" style="font-family:'Liberation Serif',serif;font-size:14.0px;font-style:italic" textLength="11.80" lengthAdjust="spacingAndGlyphs">T</text><text x="29.30" y="0.50" style="font-family:'Liberation Serif',serif;font-size:13.2px" textLength="7.80" lengthAdjust="spacingAndGlyphs">/</text><text x="34.80" y="0.00" style="font-family:'Liberation Serif',serif;font-size:14.0px;font-style:italic" textLength="11.80" lengthAdjust="spacingAndGlyphs">T</text><text x="42.30" y="1.60" style="font-family:'Liberation Serif',serif;font-size:10.8px;font-style:italic" textLength="22.00" lengthAdjust="spacingAndGlyphs">prep</text><text x="65.20" y="1.20" style="font-family:'Liberation Serif',serif;font-size:15.5px" textLength="5.00" lengthAdjust="spacingAndGlyphs">)</text><text x="76.00" y="1.50" style="font-family:'Liberation Sans',sans-serif;font-size:14.0px" textLength="15.60" lengthAdjust="spacingAndGlyphs">[-]</text></g>
<g transform="translate(11.2,370.30) rotate(-90)" fill="#1a1a1a"><text x="-1.00" y="0.00" style="font-family:'Liberation Serif',serif;font-size:14.2px" textLength="12.40" lengthAdjust="spacingAndGlyphs">ln</text><text x="11.40" y="1.20" style="font-family:'Liberation Serif',serif;font-size:15.5px" textLength="5.00" lengthAdjust="spacingAndGlyphs">(</text><text x="15.90" y="0.00" style="font-family:'Liberation Serif',serif;font-size:14.0px;font-style:italic" textLength="11.80" lengthAdjust="spacingAndGlyphs">T</text><text x="29.30" y="0.50" style="font-family:'Liberation Serif',serif;font-size:13.2px" textLength="7.80" lengthAdjust="spacingAndGlyphs">/</text><text x="34.80" y="0.00" style="font-family:'Liberation Serif',serif;font-size:14.0px;font-style:italic" textLength="11.80" lengthAdjust="spacingAndGlyphs">T</text><text x="42.30" y="1.60" style="font-family:'Liberation Serif',serif;font-size:10.8px;font-style:italic" textLength="22.00" lengthAdjust="spacingAndGlyphs">prep</text><text x="65.20" y="1.20" style="font-family:'Liberation Serif',serif;font-size:15.5px" textLength="5.00" lengthAdjust="spacingAndGlyphs">)</text><text x="76.00" y="1.50" style="font-family:'Liberation Sans',sans-serif;font-size:14.0px" textLength="15.60" lengthAdjust="spacingAndGlyphs">[-]</text></g>
<text x="186.20" y="447.3" style="font-family:'Liberation Sans',sans-serif;font-size:14.6px" fill="#1a1a1a" textLength="9.8" lengthAdjust="spacingAndGlyphs">P</text>
<text x="194.30" y="449.6" style="font-family:'Liberation Sans',sans-serif;font-size:9.3px;font-style:italic" fill="#1a1a1a" textLength="13.3" lengthAdjust="spacingAndGlyphs">H2</text>
<text x="213.50" y="447.2" style="font-family:'Liberation Sans',sans-serif;font-size:14.2px" fill="#1a1a1a" textLength="28.3" lengthAdjust="spacingAndGlyphs">[Pa]</text>
<text x="541.50" y="447.3" style="font-family:'Liberation Sans',sans-serif;font-size:14.6px" fill="#1a1a1a" textLength="9.8" lengthAdjust="spacingAndGlyphs">P</text>
<text x="549.60" y="449.6" style="font-family:'Liberation Sans',sans-serif;font-size:9.3px;font-style:italic" fill="#1a1a1a" textLength="13.3" lengthAdjust="spacingAndGlyphs">H2</text>
<text x="568.80" y="447.2" style="font-family:'Liberation Sans',sans-serif;font-size:14.2px" fill="#1a1a1a" textLength="28.3" lengthAdjust="spacingAndGlyphs">[Pa]</text>
</svg></body></html>
